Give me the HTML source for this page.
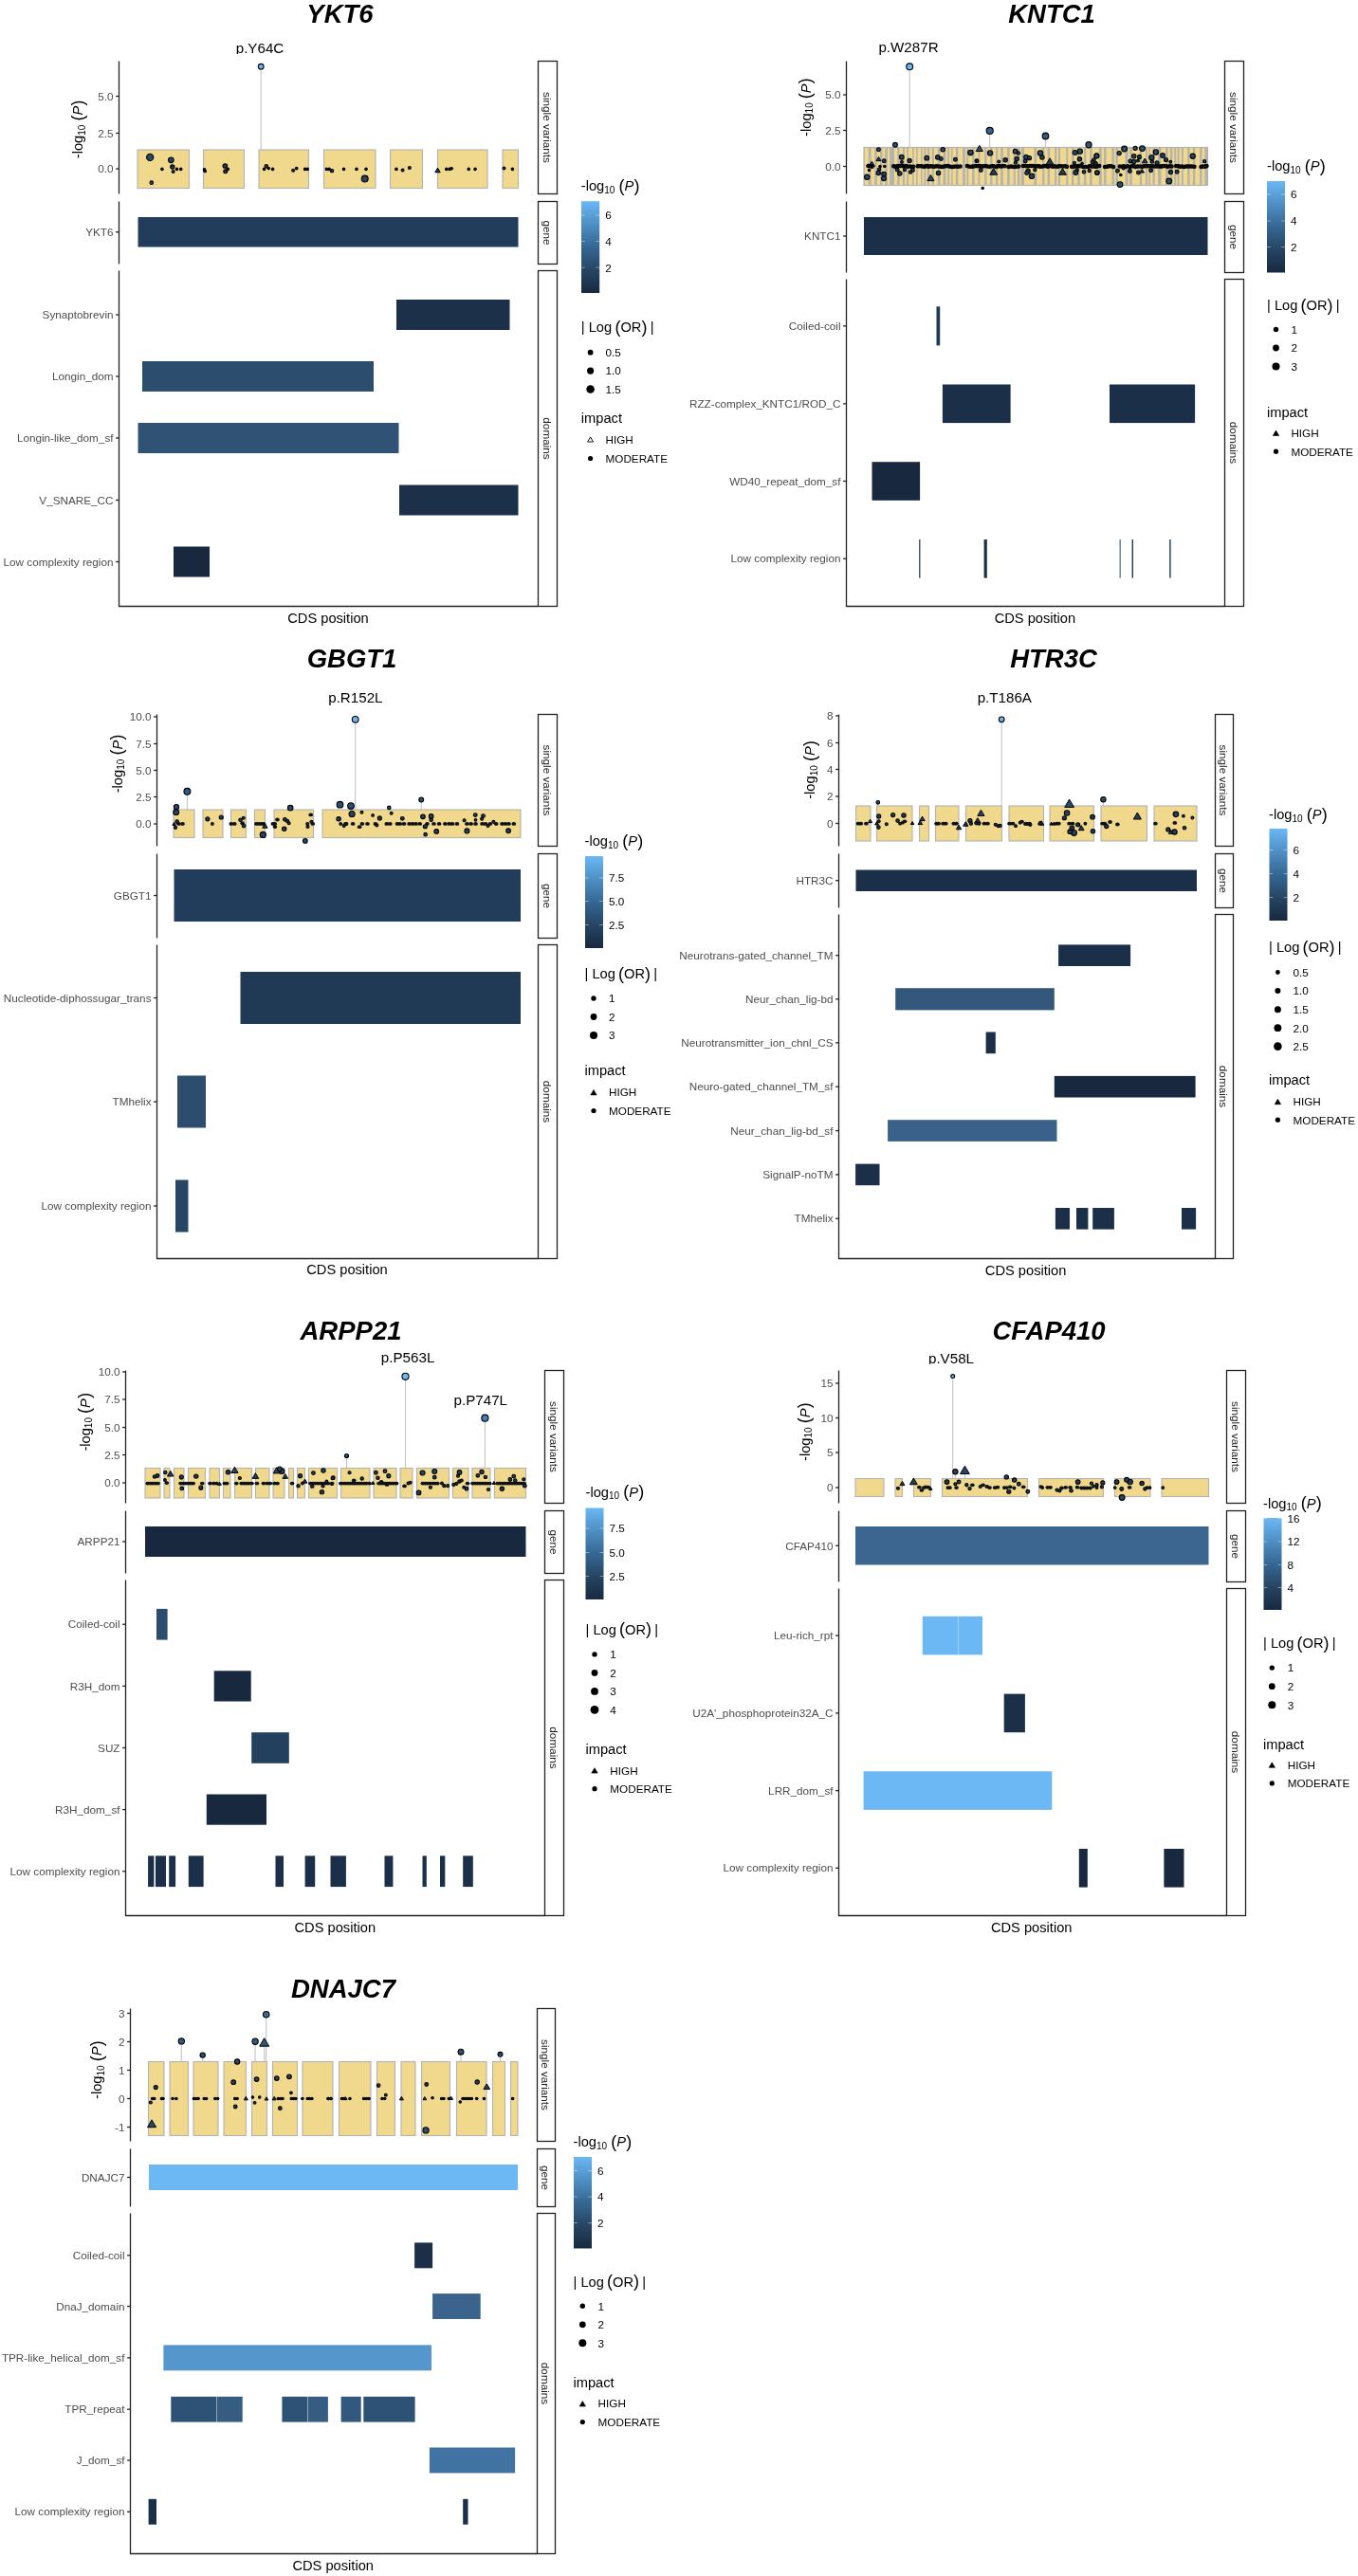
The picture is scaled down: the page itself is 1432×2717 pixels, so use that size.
<!DOCTYPE html><html><head><meta charset="utf-8"><title>Gene plots</title><style>html,body{margin:0;padding:0;background:#fff}svg{display:block}</style></head><body><svg width="1432" height="2717" viewBox="0 0 1432 2717" font-family='"Liberation Sans", sans-serif'><rect width="1432" height="2717" fill="#fff"/><clipPath id="clipV58"><rect x="900" y="1400" width="200" height="38.8"/></clipPath><rect x="145.0" y="158" width="54.50" height="40.5" fill="#f0d88c" stroke="#b3b3b3" stroke-width="1.1"/>
<rect x="214.5" y="158" width="43.00" height="40.5" fill="#f0d88c" stroke="#b3b3b3" stroke-width="1.1"/>
<rect x="273.0" y="158" width="52.50" height="40.5" fill="#f0d88c" stroke="#b3b3b3" stroke-width="1.1"/>
<rect x="341.5" y="158" width="54.50" height="40.5" fill="#f0d88c" stroke="#b3b3b3" stroke-width="1.1"/>
<rect x="411.5" y="158" width="34.00" height="40.5" fill="#f0d88c" stroke="#b3b3b3" stroke-width="1.1"/>
<rect x="461.5" y="158" width="52.50" height="40.5" fill="#f0d88c" stroke="#b3b3b3" stroke-width="1.1"/>
<rect x="530.0" y="158" width="16.50" height="40.5" fill="#f0d88c" stroke="#b3b3b3" stroke-width="1.1"/>
<line x1="275.2" y1="70.2" x2="275.2" y2="158" stroke="#c2c2c2" stroke-width="1.05"/>
<circle cx="158.17" cy="165.92" r="3.62" fill="#284665" stroke="#000" stroke-width="1.1"/>
<circle cx="384.73" cy="188.60" r="3.45" fill="#274462" stroke="#000" stroke-width="1.1"/>
<circle cx="180.36" cy="168.84" r="2.79" fill="#264361" stroke="#000" stroke-width="1.1"/>
<circle cx="237.38" cy="174.99" r="2.29" fill="#223b57" stroke="#000" stroke-width="1.1"/>
<circle cx="181.82" cy="175.96" r="2.12" fill="#213a56" stroke="#000" stroke-width="1.1"/>
<polygon points="461.52,177.11 458.81,181.75 464.23,181.75" fill="#203954" stroke="#000" stroke-width="1.0" stroke-linejoin="round"/>
<circle cx="237.71" cy="180.82" r="1.95" fill="#213a56" stroke="#000" stroke-width="1.1"/>
<circle cx="159.79" cy="192.65" r="1.79" fill="#2a4968" stroke="#000" stroke-width="1.1"/>
<circle cx="280.80" cy="175.32" r="1.79" fill="#223b57" stroke="#000" stroke-width="1.1"/>
<circle cx="350.07" cy="180.17" r="1.62" fill="#213a55" stroke="#000" stroke-width="1.1"/>
<circle cx="182.63" cy="180.98" r="1.45" fill="#213a56" stroke="#000" stroke-width="1.1"/>
<circle cx="309.15" cy="179.69" r="1.45" fill="#203954" stroke="#000" stroke-width="1.1"/>
<circle cx="424.58" cy="179.53" r="1.45" fill="#203954" stroke="#000" stroke-width="1.1"/>
<circle cx="431.87" cy="177.10" r="1.45" fill="#203954" stroke="#000" stroke-width="1.1"/>
<circle cx="531.50" cy="177.42" r="1.45" fill="#203953" stroke="#000" stroke-width="1.1"/>
<circle cx="215.51" cy="178.88" r="1.29" fill="#10161f" stroke="#000" stroke-width="1.1"/>
<circle cx="216.16" cy="180.50" r="1.29" fill="#10161f" stroke="#000" stroke-width="1.1"/>
<circle cx="312.71" cy="177.58" r="1.29" fill="#10161f" stroke="#000" stroke-width="1.1"/>
<circle cx="476.10" cy="177.75" r="1.29" fill="#10161f" stroke="#000" stroke-width="1.1"/>
<circle cx="170.96" cy="178.39" r="1.25" fill="#10161f" stroke="#000" stroke-width="1.1"/>
<circle cx="186.51" cy="178.39" r="1.25" fill="#10161f" stroke="#000" stroke-width="1.1"/>
<circle cx="190.73" cy="178.39" r="1.25" fill="#10161f" stroke="#000" stroke-width="1.1"/>
<circle cx="240.30" cy="178.39" r="1.25" fill="#10161f" stroke="#000" stroke-width="1.1"/>
<circle cx="278.53" cy="178.39" r="1.25" fill="#10161f" stroke="#000" stroke-width="1.1"/>
<circle cx="283.23" cy="177.58" r="1.25" fill="#10161f" stroke="#000" stroke-width="1.1"/>
<circle cx="287.60" cy="178.39" r="1.25" fill="#10161f" stroke="#000" stroke-width="1.1"/>
<circle cx="321.62" cy="178.39" r="1.25" fill="#10161f" stroke="#000" stroke-width="1.1"/>
<circle cx="324.21" cy="178.39" r="1.25" fill="#10161f" stroke="#000" stroke-width="1.1"/>
<circle cx="344.40" cy="178.39" r="1.25" fill="#10161f" stroke="#000" stroke-width="1.1"/>
<circle cx="347.15" cy="178.39" r="1.25" fill="#10161f" stroke="#000" stroke-width="1.1"/>
<circle cx="362.54" cy="178.39" r="1.25" fill="#10161f" stroke="#000" stroke-width="1.1"/>
<circle cx="375.98" cy="178.39" r="1.25" fill="#10161f" stroke="#000" stroke-width="1.1"/>
<circle cx="386.03" cy="178.39" r="1.25" fill="#10161f" stroke="#000" stroke-width="1.1"/>
<circle cx="417.94" cy="178.39" r="1.25" fill="#10161f" stroke="#000" stroke-width="1.1"/>
<circle cx="470.75" cy="178.39" r="1.25" fill="#10161f" stroke="#000" stroke-width="1.1"/>
<circle cx="473.99" cy="178.39" r="1.25" fill="#10161f" stroke="#000" stroke-width="1.1"/>
<circle cx="494.24" cy="178.39" r="1.25" fill="#10161f" stroke="#000" stroke-width="1.1"/>
<circle cx="501.05" cy="178.39" r="1.25" fill="#10161f" stroke="#000" stroke-width="1.1"/>
<circle cx="540.41" cy="178.39" r="1.25" fill="#10161f" stroke="#000" stroke-width="1.1"/>
<circle cx="275.20" cy="70.20" r="2.85" fill="#6bb8f5" stroke="#000" stroke-width="1.1"/>
<clipPath id="clpY64C"><rect x="214" y="25.799999999999997" width="120" height="31.3"/></clipPath>
<line x1="125.5" y1="64.5" x2="125.5" y2="204.5" stroke="#222222" stroke-width="1.3"/>
<line x1="125.5" y1="212.5" x2="125.5" y2="278.5" stroke="#222222" stroke-width="1.3"/>
<polyline points="125.5,285.5 125.5,639.5 567.5,639.5" fill="none" stroke="#222222" stroke-width="1.3"/>
<rect x="567.5" y="64.5" width="20.0" height="140.0" fill="#fff" stroke="#222222" stroke-width="1.3"/>
<rect x="567.5" y="212.5" width="20.0" height="66.0" fill="#fff" stroke="#222222" stroke-width="1.3"/>
<rect x="567.5" y="285.5" width="20.0" height="354.0" fill="#fff" stroke="#222222" stroke-width="1.3"/>
<line x1="122.1" y1="101.5" x2="125.5" y2="101.5" stroke="#222222" stroke-width="1.3"/>
<line x1="122.1" y1="140.5" x2="125.5" y2="140.5" stroke="#222222" stroke-width="1.3"/>
<line x1="122.1" y1="178" x2="125.5" y2="178" stroke="#222222" stroke-width="1.3"/>
<rect x="145.5" y="229" width="401.0" height="31.5" fill="#213d5b"/>
<line x1="122.1" y1="244.75" x2="125.5" y2="244.75" stroke="#222222" stroke-width="1.3"/>
<rect x="418.00" y="316" width="119.50" height="32.00" fill="#1c3049"/>
<line x1="122.1" y1="332.0" x2="125.5" y2="332.0" stroke="#222222" stroke-width="1.3"/>
<rect x="150.00" y="381" width="244.00" height="32.00" fill="#2c4d6e"/>
<line x1="122.1" y1="397.0" x2="125.5" y2="397.0" stroke="#222222" stroke-width="1.3"/>
<rect x="145.50" y="446" width="275.00" height="32.00" fill="#2f5275"/>
<line x1="122.1" y1="462.0" x2="125.5" y2="462.0" stroke="#222222" stroke-width="1.3"/>
<rect x="421.00" y="511.5" width="125.50" height="32.00" fill="#1c3049"/>
<line x1="122.1" y1="527.5" x2="125.5" y2="527.5" stroke="#222222" stroke-width="1.3"/>
<rect x="183.00" y="576.5" width="38.00" height="32.00" fill="#18293f"/>
<line x1="122.1" y1="592.5" x2="125.5" y2="592.5" stroke="#222222" stroke-width="1.3"/>
<linearGradient id="gYKT6" x1="0" y1="1" x2="0" y2="0"><stop offset="0" stop-color="#17293f"/><stop offset="0.25" stop-color="#264563"/><stop offset="0.5" stop-color="#356793"/><stop offset="0.75" stop-color="#4f8fc4"/><stop offset="1" stop-color="#6ab8f6"/></linearGradient>
<rect x="613" y="212.2" width="19.200000000000045" height="96.80000000000001" fill="url(#gYKT6)"/>
<line x1="613" y1="227" x2="616.8" y2="227" stroke="#fff" stroke-opacity="0.7" stroke-width="0.6"/>
<line x1="628.4000000000001" y1="227" x2="632.2" y2="227" stroke="#fff" stroke-opacity="0.7" stroke-width="0.6"/>
<line x1="613" y1="254.5" x2="616.8" y2="254.5" stroke="#fff" stroke-opacity="0.7" stroke-width="0.6"/>
<line x1="628.4000000000001" y1="254.5" x2="632.2" y2="254.5" stroke="#fff" stroke-opacity="0.7" stroke-width="0.6"/>
<line x1="613" y1="282.2" x2="616.8" y2="282.2" stroke="#fff" stroke-opacity="0.7" stroke-width="0.6"/>
<line x1="628.4000000000001" y1="282.2" x2="632.2" y2="282.2" stroke="#fff" stroke-opacity="0.7" stroke-width="0.6"/>
<circle cx="622.6" cy="371.7" r="2.9" fill="#000"/>
<circle cx="622.6" cy="391.1" r="3.6" fill="#000"/>
<circle cx="622.6" cy="410.5" r="4.3" fill="#000"/>
<polygon points="622.60,460.95 619.63,466.04 625.57,466.04" fill="#fff" stroke="#000" stroke-width="0.9" stroke-linejoin="round"/>
<circle cx="622.6" cy="483.5" r="2.6" fill="#000"/>
<rect x="910.4" y="154.9" width="363.60" height="41.2" fill="#b5b3ae"/>
<rect x="911.89" y="156.1" width="3.83" height="38.8" fill="#f0d88c"/>
<rect x="918.59" y="156.1" width="3.64" height="38.8" fill="#f0d88c"/>
<rect x="924.82" y="156.1" width="3.16" height="38.8" fill="#f0d88c"/>
<rect x="930.37" y="156.1" width="2.87" height="38.8" fill="#f0d88c"/>
<rect x="935.83" y="156.1" width="2.20" height="38.8" fill="#f0d88c"/>
<rect x="943.00" y="156.1" width="3.16" height="38.8" fill="#f0d88c"/>
<rect x="948.56" y="156.1" width="3.35" height="38.8" fill="#f0d88c"/>
<rect x="954.01" y="156.1" width="2.20" height="38.8" fill="#f0d88c"/>
<rect x="958.13" y="156.1" width="3.83" height="38.8" fill="#f0d88c"/>
<rect x="963.59" y="156.1" width="2.49" height="38.8" fill="#f0d88c"/>
<rect x="967.70" y="156.1" width="3.35" height="38.8" fill="#f0d88c"/>
<rect x="972.49" y="156.1" width="1.91" height="38.8" fill="#f0d88c"/>
<rect x="976.32" y="156.1" width="1.63" height="38.8" fill="#f0d88c"/>
<rect x="980.15" y="156.1" width="2.58" height="38.8" fill="#f0d88c"/>
<rect x="984.93" y="156.1" width="3.83" height="38.8" fill="#f0d88c"/>
<rect x="991.64" y="156.1" width="2.87" height="38.8" fill="#f0d88c"/>
<rect x="997.38" y="156.1" width="1.91" height="38.8" fill="#f0d88c"/>
<rect x="1001.21" y="156.1" width="1.91" height="38.8" fill="#f0d88c"/>
<rect x="1004.56" y="156.1" width="3.35" height="38.8" fill="#f0d88c"/>
<rect x="1010.30" y="156.1" width="4.79" height="38.8" fill="#f0d88c"/>
<rect x="1017.96" y="156.1" width="1.44" height="38.8" fill="#f0d88c"/>
<rect x="1021.31" y="156.1" width="3.83" height="38.8" fill="#f0d88c"/>
<rect x="1027.73" y="156.1" width="3.64" height="38.8" fill="#f0d88c"/>
<rect x="1033.35" y="156.1" width="4.79" height="38.8" fill="#f0d88c"/>
<rect x="1040.53" y="156.1" width="3.64" height="38.8" fill="#f0d88c"/>
<rect x="1046.47" y="156.1" width="3.64" height="38.8" fill="#f0d88c"/>
<rect x="1052.21" y="156.1" width="2.87" height="38.8" fill="#f0d88c"/>
<rect x="1057.76" y="156.1" width="4.31" height="38.8" fill="#f0d88c"/>
<rect x="1064.65" y="156.1" width="4.12" height="38.8" fill="#f0d88c"/>
<rect x="1070.69" y="156.1" width="2.39" height="38.8" fill="#f0d88c"/>
<rect x="1075.47" y="156.1" width="1.44" height="38.8" fill="#f0d88c"/>
<rect x="1079.97" y="156.1" width="10.53" height="38.8" fill="#f0d88c"/>
<rect x="1093.18" y="156.1" width="5.94" height="38.8" fill="#f0d88c"/>
<rect x="1101.32" y="156.1" width="3.35" height="38.8" fill="#f0d88c"/>
<rect x="1107.06" y="156.1" width="5.07" height="38.8" fill="#f0d88c"/>
<rect x="1114.24" y="156.1" width="1.72" height="38.8" fill="#f0d88c"/>
<rect x="1118.07" y="156.1" width="6.22" height="38.8" fill="#f0d88c"/>
<rect x="1126.21" y="156.1" width="3.83" height="38.8" fill="#f0d88c"/>
<rect x="1132.24" y="156.1" width="4.02" height="38.8" fill="#f0d88c"/>
<rect x="1138.65" y="156.1" width="4.31" height="38.8" fill="#f0d88c"/>
<rect x="1145.36" y="156.1" width="3.83" height="38.8" fill="#f0d88c"/>
<rect x="1151.58" y="156.1" width="6.70" height="38.8" fill="#f0d88c"/>
<rect x="1033.30" y="156.1" width="0.10" height="38.8" fill="#f0d88c"/>
<rect x="1155.00" y="156.1" width="3.83" height="38.8" fill="#f0d88c"/>
<rect x="1161.70" y="156.1" width="2.39" height="38.8" fill="#f0d88c"/>
<rect x="1166.49" y="156.1" width="5.94" height="38.8" fill="#f0d88c"/>
<rect x="1175.10" y="156.1" width="1.44" height="38.8" fill="#f0d88c"/>
<rect x="1178.93" y="156.1" width="7.66" height="38.8" fill="#f0d88c"/>
<rect x="1189.46" y="156.1" width="1.91" height="38.8" fill="#f0d88c"/>
<rect x="1193.77" y="156.1" width="8.14" height="38.8" fill="#f0d88c"/>
<rect x="1204.01" y="156.1" width="4.12" height="38.8" fill="#f0d88c"/>
<rect x="1210.04" y="156.1" width="1.44" height="38.8" fill="#f0d88c"/>
<rect x="1212.92" y="156.1" width="2.58" height="38.8" fill="#f0d88c"/>
<rect x="1217.70" y="156.1" width="3.35" height="38.8" fill="#f0d88c"/>
<rect x="1224.40" y="156.1" width="4.79" height="38.8" fill="#f0d88c"/>
<rect x="1231.58" y="156.1" width="2.39" height="38.8" fill="#f0d88c"/>
<rect x="1236.37" y="156.1" width="1.91" height="38.8" fill="#f0d88c"/>
<rect x="1240.20" y="156.1" width="1.44" height="38.8" fill="#f0d88c"/>
<rect x="1243.55" y="156.1" width="2.39" height="38.8" fill="#f0d88c"/>
<rect x="1247.86" y="156.1" width="4.31" height="38.8" fill="#f0d88c"/>
<rect x="1254.56" y="156.1" width="3.35" height="38.8" fill="#f0d88c"/>
<rect x="1260.30" y="156.1" width="4.79" height="38.8" fill="#f0d88c"/>
<rect x="1267.48" y="156.1" width="2.87" height="38.8" fill="#f0d88c"/>
<line x1="959.2" y1="70.3" x2="959.2" y2="155.5" stroke="#c2c2c2" stroke-width="1.05"/>
<line x1="1043.7" y1="137.9" x2="1043.7" y2="155.5" stroke="#c2c2c2" stroke-width="1.05"/>
<line x1="1102.5" y1="143.5" x2="1102.5" y2="155.5" stroke="#c2c2c2" stroke-width="1.05"/>
<polygon points="1107.06,166.78 1102.93,173.87 1111.20,173.87" fill="#233e5a" stroke="#000" stroke-width="1.0" stroke-linejoin="round"/>
<polygon points="1047.71,177.51 1043.79,184.22 1051.63,184.22" fill="#233e5a" stroke="#000" stroke-width="1.0" stroke-linejoin="round"/>
<polygon points="1120.47,177.51 1116.55,184.22 1124.38,184.22" fill="#233e5a" stroke="#000" stroke-width="1.0" stroke-linejoin="round"/>
<circle cx="1148.04" cy="152.76" r="3.10" fill="#305476" stroke="#000" stroke-width="1.1"/>
<polygon points="981.39,184.50 977.81,190.65 984.98,190.65" fill="#284665" stroke="#000" stroke-width="1.0" stroke-linejoin="round"/>
<polygon points="1032.80,153.39 1029.21,159.54 1036.39,159.54" fill="#2d4f70" stroke="#000" stroke-width="1.0" stroke-linejoin="round"/>
<circle cx="1185.63" cy="157.07" r="2.90" fill="#2d4e6f" stroke="#000" stroke-width="1.1"/>
<circle cx="1204.49" cy="156.59" r="2.90" fill="#2d4f70" stroke="#000" stroke-width="1.1"/>
<circle cx="1181.04" cy="194.60" r="2.90" fill="#2d4f70" stroke="#000" stroke-width="1.1"/>
<circle cx="1232.73" cy="191.05" r="2.90" fill="#2b4b6a" stroke="#000" stroke-width="1.1"/>
<circle cx="914.29" cy="186.75" r="2.70" fill="#284563" stroke="#000" stroke-width="1.1"/>
<circle cx="1023.42" cy="160.90" r="2.70" fill="#2a4969" stroke="#000" stroke-width="1.1"/>
<circle cx="1097.01" cy="161.38" r="2.70" fill="#2a4968" stroke="#000" stroke-width="1.1"/>
<circle cx="1087.92" cy="185.79" r="2.70" fill="#274462" stroke="#000" stroke-width="1.1"/>
<circle cx="1218.85" cy="160.42" r="2.70" fill="#2a4a69" stroke="#000" stroke-width="1.1"/>
<circle cx="1044.07" cy="161.38" r="2.61" fill="#2a4968" stroke="#000" stroke-width="1.1"/>
<circle cx="1138.85" cy="159.65" r="2.61" fill="#2b4b6b" stroke="#000" stroke-width="1.1"/>
<circle cx="1214.35" cy="166.16" r="2.61" fill="#264360" stroke="#000" stroke-width="1.1"/>
<circle cx="1257.72" cy="164.73" r="2.61" fill="#274563" stroke="#000" stroke-width="1.1"/>
<polygon points="919.36,170.16 916.33,175.36 922.39,175.36" fill="#213b56" stroke="#000" stroke-width="1.0" stroke-linejoin="round"/>
<circle cx="932.09" cy="183.59" r="2.41" fill="#25415e" stroke="#000" stroke-width="1.1"/>
<circle cx="932.00" cy="188.18" r="2.41" fill="#294766" stroke="#000" stroke-width="1.1"/>
<circle cx="943.96" cy="152.76" r="2.41" fill="#305476" stroke="#000" stroke-width="1.1"/>
<circle cx="950.76" cy="165.69" r="2.41" fill="#274361" stroke="#000" stroke-width="1.1"/>
<circle cx="977.28" cy="166.64" r="2.41" fill="#264260" stroke="#000" stroke-width="1.1"/>
<circle cx="1070.69" cy="159.65" r="2.41" fill="#2b4b6b" stroke="#000" stroke-width="1.1"/>
<circle cx="1081.98" cy="165.69" r="2.41" fill="#274361" stroke="#000" stroke-width="1.1"/>
<circle cx="1133.68" cy="160.90" r="2.41" fill="#2a4969" stroke="#000" stroke-width="1.1"/>
<circle cx="1156.36" cy="164.25" r="2.41" fill="#284563" stroke="#000" stroke-width="1.1"/>
<circle cx="1134.35" cy="181.96" r="2.41" fill="#243f5c" stroke="#000" stroke-width="1.1"/>
<circle cx="1226.03" cy="164.06" r="2.41" fill="#284564" stroke="#000" stroke-width="1.1"/>
<circle cx="1156.44" cy="164.44" r="2.41" fill="#274563" stroke="#000" stroke-width="1.1"/>
<circle cx="926.25" cy="182.44" r="2.21" fill="#24405d" stroke="#000" stroke-width="1.1"/>
<circle cx="948.75" cy="182.92" r="2.21" fill="#25405d" stroke="#000" stroke-width="1.1"/>
<circle cx="988.76" cy="165.88" r="2.21" fill="#264361" stroke="#000" stroke-width="1.1"/>
<circle cx="994.22" cy="157.74" r="2.21" fill="#2c4d6e" stroke="#000" stroke-width="1.1"/>
<circle cx="989.53" cy="182.44" r="2.21" fill="#24405d" stroke="#000" stroke-width="1.1"/>
<circle cx="1060.16" cy="168.84" r="2.21" fill="#243f5c" stroke="#000" stroke-width="1.1"/>
<circle cx="1072.12" cy="167.60" r="2.21" fill="#25415e" stroke="#000" stroke-width="1.1"/>
<circle cx="1098.93" cy="165.97" r="2.21" fill="#264361" stroke="#000" stroke-width="1.1"/>
<circle cx="1084.09" cy="180.52" r="2.21" fill="#233d5a" stroke="#000" stroke-width="1.1"/>
<circle cx="1138.46" cy="167.79" r="2.21" fill="#25415e" stroke="#000" stroke-width="1.1"/>
<circle cx="1156.84" cy="182.25" r="2.21" fill="#24405c" stroke="#000" stroke-width="1.1"/>
<circle cx="1195.69" cy="164.73" r="2.21" fill="#274563" stroke="#000" stroke-width="1.1"/>
<circle cx="1195.69" cy="170.47" r="2.21" fill="#233e5a" stroke="#000" stroke-width="1.1"/>
<polygon points="1207.17,167.00 1204.36,171.82 1209.99,171.82" fill="#243f5b" stroke="#000" stroke-width="1.0" stroke-linejoin="round"/>
<circle cx="1156.91" cy="181.96" r="2.21" fill="#243f5c" stroke="#000" stroke-width="1.1"/>
<circle cx="959.09" cy="169.51" r="2.11" fill="#243f5b" stroke="#000" stroke-width="1.1"/>
<circle cx="1197.12" cy="156.30" r="2.11" fill="#2d4f70" stroke="#000" stroke-width="1.1"/>
<circle cx="1180.18" cy="161.57" r="2.11" fill="#2a4868" stroke="#000" stroke-width="1.1"/>
<circle cx="1234.46" cy="181.48" r="2.11" fill="#243f5b" stroke="#000" stroke-width="1.1"/>
<circle cx="1085.52" cy="166.64" r="2.01" fill="#264260" stroke="#000" stroke-width="1.1"/>
<circle cx="1201.43" cy="165.40" r="2.01" fill="#274462" stroke="#000" stroke-width="1.1"/>
<circle cx="1229.48" cy="168.56" r="2.01" fill="#24405d" stroke="#000" stroke-width="1.1"/>
<circle cx="1220.10" cy="171.91" r="2.01" fill="#223c57" stroke="#000" stroke-width="1.1"/>
<circle cx="926.44" cy="157.74" r="1.92" fill="#2c4d6e" stroke="#000" stroke-width="1.1"/>
<polygon points="926.44,165.38 923.96,169.64 928.92,169.64" fill="#25415e" stroke="#000" stroke-width="1.0" stroke-linejoin="round"/>
<circle cx="932.28" cy="169.80" r="1.92" fill="#243e5b" stroke="#000" stroke-width="1.1"/>
<circle cx="946.16" cy="179.09" r="1.92" fill="#223c57" stroke="#000" stroke-width="1.1"/>
<circle cx="962.44" cy="179.57" r="1.92" fill="#223c58" stroke="#000" stroke-width="1.1"/>
<circle cx="992.31" cy="167.41" r="1.92" fill="#25415e" stroke="#000" stroke-width="1.1"/>
<circle cx="1007.43" cy="168.27" r="1.92" fill="#25405d" stroke="#000" stroke-width="1.1"/>
<circle cx="1029.93" cy="169.80" r="1.92" fill="#243e5b" stroke="#000" stroke-width="1.1"/>
<circle cx="1081.22" cy="169.99" r="1.92" fill="#233e5a" stroke="#000" stroke-width="1.1"/>
<circle cx="1082.65" cy="182.44" r="1.92" fill="#24405d" stroke="#000" stroke-width="1.1"/>
<circle cx="1034.31" cy="179.57" r="1.92" fill="#223c58" stroke="#000" stroke-width="1.1"/>
<circle cx="1191.86" cy="169.99" r="1.92" fill="#233e5a" stroke="#000" stroke-width="1.1"/>
<circle cx="1178.45" cy="180.33" r="1.92" fill="#233d59" stroke="#000" stroke-width="1.1"/>
<circle cx="1191.38" cy="180.52" r="1.92" fill="#233d5a" stroke="#000" stroke-width="1.1"/>
<circle cx="1200.47" cy="181.96" r="1.92" fill="#243f5c" stroke="#000" stroke-width="1.1"/>
<circle cx="1213.59" cy="179.76" r="1.92" fill="#223d58" stroke="#000" stroke-width="1.1"/>
<circle cx="1241.16" cy="181.29" r="1.92" fill="#243e5b" stroke="#000" stroke-width="1.1"/>
<circle cx="1153.49" cy="168.56" r="1.82" fill="#24405d" stroke="#000" stroke-width="1.1"/>
<circle cx="1152.06" cy="170.95" r="1.82" fill="#233d59" stroke="#000" stroke-width="1.1"/>
<circle cx="1155.41" cy="172.39" r="1.82" fill="#223b57" stroke="#000" stroke-width="1.1"/>
<circle cx="1142.96" cy="181.29" r="1.82" fill="#243e5b" stroke="#000" stroke-width="1.1"/>
<circle cx="1073.75" cy="161.57" r="1.72" fill="#2a4868" stroke="#000" stroke-width="1.1"/>
<circle cx="942.30" cy="175.32" r="1.70" fill="#10161f" stroke="#000" stroke-width="1.1"/>
<circle cx="943.97" cy="175.65" r="1.70" fill="#10161f" stroke="#000" stroke-width="1.1"/>
<circle cx="945.55" cy="175.54" r="1.70" fill="#10161f" stroke="#000" stroke-width="1.1"/>
<circle cx="947.45" cy="175.06" r="1.70" fill="#10161f" stroke="#000" stroke-width="1.1"/>
<circle cx="949.51" cy="175.04" r="1.70" fill="#10161f" stroke="#000" stroke-width="1.1"/>
<circle cx="951.48" cy="175.07" r="1.70" fill="#10161f" stroke="#000" stroke-width="1.1"/>
<circle cx="953.08" cy="175.42" r="1.70" fill="#10161f" stroke="#000" stroke-width="1.1"/>
<circle cx="955.49" cy="175.12" r="1.70" fill="#10161f" stroke="#000" stroke-width="1.1"/>
<circle cx="957.24" cy="175.63" r="1.70" fill="#10161f" stroke="#000" stroke-width="1.1"/>
<circle cx="959.78" cy="175.58" r="1.70" fill="#10161f" stroke="#000" stroke-width="1.1"/>
<circle cx="961.72" cy="175.98" r="1.70" fill="#10161f" stroke="#000" stroke-width="1.1"/>
<circle cx="963.27" cy="175.86" r="1.70" fill="#10161f" stroke="#000" stroke-width="1.1"/>
<circle cx="967.70" cy="175.14" r="1.70" fill="#10161f" stroke="#000" stroke-width="1.1"/>
<circle cx="969.33" cy="175.31" r="1.70" fill="#10161f" stroke="#000" stroke-width="1.1"/>
<circle cx="971.73" cy="175.18" r="1.70" fill="#10161f" stroke="#000" stroke-width="1.1"/>
<circle cx="973.87" cy="175.64" r="1.70" fill="#10161f" stroke="#000" stroke-width="1.1"/>
<circle cx="975.78" cy="175.55" r="1.70" fill="#10161f" stroke="#000" stroke-width="1.1"/>
<circle cx="977.35" cy="175.06" r="1.70" fill="#10161f" stroke="#000" stroke-width="1.1"/>
<circle cx="979.07" cy="175.68" r="1.70" fill="#10161f" stroke="#000" stroke-width="1.1"/>
<circle cx="981.04" cy="175.31" r="1.70" fill="#10161f" stroke="#000" stroke-width="1.1"/>
<circle cx="983.19" cy="175.45" r="1.70" fill="#10161f" stroke="#000" stroke-width="1.1"/>
<circle cx="985.02" cy="175.79" r="1.70" fill="#10161f" stroke="#000" stroke-width="1.1"/>
<circle cx="987.29" cy="175.24" r="1.70" fill="#10161f" stroke="#000" stroke-width="1.1"/>
<circle cx="989.42" cy="175.53" r="1.70" fill="#10161f" stroke="#000" stroke-width="1.1"/>
<circle cx="991.88" cy="175.73" r="1.70" fill="#10161f" stroke="#000" stroke-width="1.1"/>
<circle cx="993.70" cy="175.98" r="1.70" fill="#10161f" stroke="#000" stroke-width="1.1"/>
<circle cx="995.33" cy="175.42" r="1.70" fill="#10161f" stroke="#000" stroke-width="1.1"/>
<circle cx="997.66" cy="175.15" r="1.70" fill="#10161f" stroke="#000" stroke-width="1.1"/>
<circle cx="999.70" cy="175.04" r="1.70" fill="#10161f" stroke="#000" stroke-width="1.1"/>
<circle cx="1001.93" cy="175.76" r="1.70" fill="#10161f" stroke="#000" stroke-width="1.1"/>
<circle cx="1004.06" cy="175.88" r="1.70" fill="#10161f" stroke="#000" stroke-width="1.1"/>
<circle cx="1005.91" cy="175.70" r="1.70" fill="#10161f" stroke="#000" stroke-width="1.1"/>
<circle cx="1008.06" cy="175.58" r="1.70" fill="#10161f" stroke="#000" stroke-width="1.1"/>
<circle cx="1010.06" cy="175.84" r="1.70" fill="#10161f" stroke="#000" stroke-width="1.1"/>
<circle cx="1012.60" cy="175.47" r="1.70" fill="#10161f" stroke="#000" stroke-width="1.1"/>
<circle cx="1019.90" cy="175.06" r="1.70" fill="#10161f" stroke="#000" stroke-width="1.1"/>
<circle cx="1022.17" cy="175.65" r="1.70" fill="#10161f" stroke="#000" stroke-width="1.1"/>
<circle cx="1024.76" cy="175.82" r="1.70" fill="#10161f" stroke="#000" stroke-width="1.1"/>
<circle cx="1026.58" cy="175.39" r="1.70" fill="#10161f" stroke="#000" stroke-width="1.1"/>
<circle cx="1028.81" cy="175.02" r="1.70" fill="#10161f" stroke="#000" stroke-width="1.1"/>
<circle cx="1030.82" cy="175.17" r="1.70" fill="#10161f" stroke="#000" stroke-width="1.1"/>
<circle cx="1032.45" cy="175.06" r="1.70" fill="#10161f" stroke="#000" stroke-width="1.1"/>
<circle cx="1034.79" cy="175.13" r="1.70" fill="#10161f" stroke="#000" stroke-width="1.1"/>
<circle cx="1036.57" cy="175.39" r="1.70" fill="#10161f" stroke="#000" stroke-width="1.1"/>
<circle cx="1039.03" cy="175.08" r="1.70" fill="#10161f" stroke="#000" stroke-width="1.1"/>
<circle cx="1041.02" cy="175.55" r="1.70" fill="#10161f" stroke="#000" stroke-width="1.1"/>
<circle cx="1043.49" cy="175.82" r="1.70" fill="#10161f" stroke="#000" stroke-width="1.1"/>
<circle cx="1045.94" cy="175.28" r="1.70" fill="#10161f" stroke="#000" stroke-width="1.1"/>
<circle cx="1047.90" cy="175.36" r="1.70" fill="#10161f" stroke="#000" stroke-width="1.1"/>
<circle cx="1050.37" cy="175.96" r="1.70" fill="#10161f" stroke="#000" stroke-width="1.1"/>
<circle cx="1052.04" cy="175.18" r="1.70" fill="#10161f" stroke="#000" stroke-width="1.1"/>
<circle cx="1053.79" cy="175.23" r="1.70" fill="#10161f" stroke="#000" stroke-width="1.1"/>
<circle cx="1055.83" cy="175.59" r="1.70" fill="#10161f" stroke="#000" stroke-width="1.1"/>
<circle cx="1057.61" cy="175.00" r="1.70" fill="#10161f" stroke="#000" stroke-width="1.1"/>
<circle cx="1059.58" cy="175.37" r="1.70" fill="#10161f" stroke="#000" stroke-width="1.1"/>
<circle cx="1063.50" cy="175.95" r="1.70" fill="#10161f" stroke="#000" stroke-width="1.1"/>
<circle cx="1065.76" cy="175.52" r="1.70" fill="#10161f" stroke="#000" stroke-width="1.1"/>
<circle cx="1067.94" cy="175.68" r="1.70" fill="#10161f" stroke="#000" stroke-width="1.1"/>
<circle cx="1069.50" cy="175.90" r="1.70" fill="#10161f" stroke="#000" stroke-width="1.1"/>
<circle cx="1071.86" cy="175.87" r="1.70" fill="#10161f" stroke="#000" stroke-width="1.1"/>
<circle cx="1074.23" cy="175.39" r="1.70" fill="#10161f" stroke="#000" stroke-width="1.1"/>
<circle cx="1078.80" cy="175.10" r="1.70" fill="#10161f" stroke="#000" stroke-width="1.1"/>
<circle cx="1081.00" cy="175.06" r="1.70" fill="#10161f" stroke="#000" stroke-width="1.1"/>
<circle cx="1082.57" cy="175.21" r="1.70" fill="#10161f" stroke="#000" stroke-width="1.1"/>
<circle cx="1084.25" cy="175.34" r="1.70" fill="#10161f" stroke="#000" stroke-width="1.1"/>
<circle cx="1085.81" cy="175.00" r="1.70" fill="#10161f" stroke="#000" stroke-width="1.1"/>
<circle cx="1087.47" cy="175.10" r="1.70" fill="#10161f" stroke="#000" stroke-width="1.1"/>
<circle cx="1089.37" cy="175.03" r="1.70" fill="#10161f" stroke="#000" stroke-width="1.1"/>
<circle cx="1091.84" cy="175.61" r="1.70" fill="#10161f" stroke="#000" stroke-width="1.1"/>
<circle cx="1093.50" cy="175.25" r="1.70" fill="#10161f" stroke="#000" stroke-width="1.1"/>
<circle cx="1095.38" cy="175.36" r="1.70" fill="#10161f" stroke="#000" stroke-width="1.1"/>
<circle cx="1097.02" cy="175.85" r="1.70" fill="#10161f" stroke="#000" stroke-width="1.1"/>
<circle cx="1099.61" cy="175.47" r="1.70" fill="#10161f" stroke="#000" stroke-width="1.1"/>
<circle cx="1101.64" cy="175.09" r="1.70" fill="#10161f" stroke="#000" stroke-width="1.1"/>
<circle cx="1103.25" cy="175.34" r="1.70" fill="#10161f" stroke="#000" stroke-width="1.1"/>
<circle cx="1105.05" cy="175.83" r="1.70" fill="#10161f" stroke="#000" stroke-width="1.1"/>
<circle cx="1106.72" cy="175.02" r="1.70" fill="#10161f" stroke="#000" stroke-width="1.1"/>
<circle cx="1109.27" cy="175.53" r="1.70" fill="#10161f" stroke="#000" stroke-width="1.1"/>
<circle cx="1110.93" cy="175.54" r="1.70" fill="#10161f" stroke="#000" stroke-width="1.1"/>
<circle cx="1112.46" cy="175.53" r="1.70" fill="#10161f" stroke="#000" stroke-width="1.1"/>
<circle cx="1115.04" cy="175.86" r="1.70" fill="#10161f" stroke="#000" stroke-width="1.1"/>
<circle cx="1116.60" cy="175.26" r="1.70" fill="#10161f" stroke="#000" stroke-width="1.1"/>
<circle cx="1118.50" cy="175.17" r="1.70" fill="#10161f" stroke="#000" stroke-width="1.1"/>
<circle cx="1120.85" cy="175.53" r="1.70" fill="#10161f" stroke="#000" stroke-width="1.1"/>
<circle cx="1123.21" cy="175.33" r="1.70" fill="#10161f" stroke="#000" stroke-width="1.1"/>
<circle cx="1124.95" cy="175.81" r="1.70" fill="#10161f" stroke="#000" stroke-width="1.1"/>
<circle cx="1130.00" cy="175.85" r="1.70" fill="#10161f" stroke="#000" stroke-width="1.1"/>
<circle cx="1132.39" cy="175.82" r="1.70" fill="#10161f" stroke="#000" stroke-width="1.1"/>
<circle cx="1134.70" cy="175.23" r="1.70" fill="#10161f" stroke="#000" stroke-width="1.1"/>
<circle cx="1136.77" cy="175.36" r="1.70" fill="#10161f" stroke="#000" stroke-width="1.1"/>
<circle cx="1138.30" cy="175.03" r="1.70" fill="#10161f" stroke="#000" stroke-width="1.1"/>
<circle cx="1140.11" cy="175.26" r="1.70" fill="#10161f" stroke="#000" stroke-width="1.1"/>
<circle cx="1142.37" cy="175.96" r="1.70" fill="#10161f" stroke="#000" stroke-width="1.1"/>
<circle cx="1144.36" cy="175.94" r="1.70" fill="#10161f" stroke="#000" stroke-width="1.1"/>
<circle cx="1146.95" cy="175.96" r="1.70" fill="#10161f" stroke="#000" stroke-width="1.1"/>
<circle cx="1148.85" cy="175.22" r="1.70" fill="#10161f" stroke="#000" stroke-width="1.1"/>
<circle cx="1150.60" cy="175.20" r="1.70" fill="#10161f" stroke="#000" stroke-width="1.1"/>
<circle cx="1152.33" cy="175.62" r="1.70" fill="#10161f" stroke="#000" stroke-width="1.1"/>
<circle cx="1154.82" cy="175.84" r="1.70" fill="#10161f" stroke="#000" stroke-width="1.1"/>
<circle cx="1156.84" cy="175.65" r="1.70" fill="#10161f" stroke="#000" stroke-width="1.1"/>
<circle cx="1159.22" cy="175.08" r="1.70" fill="#10161f" stroke="#000" stroke-width="1.1"/>
<circle cx="1165.00" cy="175.91" r="1.70" fill="#10161f" stroke="#000" stroke-width="1.1"/>
<circle cx="1167.36" cy="175.75" r="1.70" fill="#10161f" stroke="#000" stroke-width="1.1"/>
<circle cx="1169.39" cy="175.18" r="1.70" fill="#10161f" stroke="#000" stroke-width="1.1"/>
<circle cx="1171.75" cy="175.33" r="1.70" fill="#10161f" stroke="#000" stroke-width="1.1"/>
<circle cx="1174.14" cy="175.97" r="1.70" fill="#10161f" stroke="#000" stroke-width="1.1"/>
<circle cx="1180.80" cy="175.40" r="1.70" fill="#10161f" stroke="#000" stroke-width="1.1"/>
<circle cx="1183.34" cy="175.72" r="1.70" fill="#10161f" stroke="#000" stroke-width="1.1"/>
<circle cx="1185.03" cy="175.13" r="1.70" fill="#10161f" stroke="#000" stroke-width="1.1"/>
<circle cx="1186.69" cy="175.90" r="1.70" fill="#10161f" stroke="#000" stroke-width="1.1"/>
<circle cx="1189.08" cy="175.15" r="1.70" fill="#10161f" stroke="#000" stroke-width="1.1"/>
<circle cx="1191.49" cy="175.98" r="1.70" fill="#10161f" stroke="#000" stroke-width="1.1"/>
<circle cx="1193.71" cy="175.35" r="1.70" fill="#10161f" stroke="#000" stroke-width="1.1"/>
<circle cx="1195.82" cy="175.13" r="1.70" fill="#10161f" stroke="#000" stroke-width="1.1"/>
<circle cx="1197.33" cy="175.97" r="1.70" fill="#10161f" stroke="#000" stroke-width="1.1"/>
<circle cx="1199.55" cy="175.53" r="1.70" fill="#10161f" stroke="#000" stroke-width="1.1"/>
<circle cx="1202.07" cy="175.43" r="1.70" fill="#10161f" stroke="#000" stroke-width="1.1"/>
<circle cx="1204.53" cy="175.83" r="1.70" fill="#10161f" stroke="#000" stroke-width="1.1"/>
<circle cx="1206.27" cy="175.25" r="1.70" fill="#10161f" stroke="#000" stroke-width="1.1"/>
<circle cx="1208.09" cy="175.24" r="1.70" fill="#10161f" stroke="#000" stroke-width="1.1"/>
<circle cx="1210.23" cy="175.26" r="1.70" fill="#10161f" stroke="#000" stroke-width="1.1"/>
<circle cx="1212.19" cy="175.13" r="1.70" fill="#10161f" stroke="#000" stroke-width="1.1"/>
<circle cx="1214.70" cy="175.35" r="1.70" fill="#10161f" stroke="#000" stroke-width="1.1"/>
<circle cx="1216.70" cy="175.58" r="1.70" fill="#10161f" stroke="#000" stroke-width="1.1"/>
<circle cx="1219.19" cy="175.42" r="1.70" fill="#10161f" stroke="#000" stroke-width="1.1"/>
<circle cx="1221.70" cy="175.50" r="1.70" fill="#10161f" stroke="#000" stroke-width="1.1"/>
<circle cx="1223.79" cy="175.52" r="1.70" fill="#10161f" stroke="#000" stroke-width="1.1"/>
<circle cx="1225.31" cy="175.44" r="1.70" fill="#10161f" stroke="#000" stroke-width="1.1"/>
<circle cx="1227.01" cy="175.00" r="1.70" fill="#10161f" stroke="#000" stroke-width="1.1"/>
<circle cx="1229.39" cy="175.17" r="1.70" fill="#10161f" stroke="#000" stroke-width="1.1"/>
<circle cx="1231.41" cy="175.73" r="1.70" fill="#10161f" stroke="#000" stroke-width="1.1"/>
<circle cx="1233.52" cy="175.33" r="1.70" fill="#10161f" stroke="#000" stroke-width="1.1"/>
<circle cx="1235.59" cy="175.56" r="1.70" fill="#10161f" stroke="#000" stroke-width="1.1"/>
<circle cx="1240.20" cy="175.11" r="1.70" fill="#10161f" stroke="#000" stroke-width="1.1"/>
<circle cx="1242.32" cy="175.25" r="1.70" fill="#10161f" stroke="#000" stroke-width="1.1"/>
<circle cx="1244.12" cy="175.77" r="1.70" fill="#10161f" stroke="#000" stroke-width="1.1"/>
<circle cx="1246.18" cy="175.56" r="1.70" fill="#10161f" stroke="#000" stroke-width="1.1"/>
<circle cx="1248.52" cy="175.91" r="1.70" fill="#10161f" stroke="#000" stroke-width="1.1"/>
<circle cx="1250.50" cy="175.61" r="1.70" fill="#10161f" stroke="#000" stroke-width="1.1"/>
<circle cx="1252.56" cy="175.51" r="1.70" fill="#10161f" stroke="#000" stroke-width="1.1"/>
<circle cx="1254.82" cy="175.45" r="1.70" fill="#10161f" stroke="#000" stroke-width="1.1"/>
<circle cx="1256.91" cy="175.48" r="1.70" fill="#10161f" stroke="#000" stroke-width="1.1"/>
<circle cx="1259.44" cy="175.70" r="1.70" fill="#10161f" stroke="#000" stroke-width="1.1"/>
<circle cx="1266.50" cy="175.94" r="1.70" fill="#10161f" stroke="#000" stroke-width="1.1"/>
<circle cx="1268.29" cy="175.56" r="1.70" fill="#10161f" stroke="#000" stroke-width="1.1"/>
<circle cx="1270.82" cy="175.84" r="1.70" fill="#10161f" stroke="#000" stroke-width="1.1"/>
<circle cx="1272.47" cy="175.12" r="1.70" fill="#10161f" stroke="#000" stroke-width="1.1"/>
<circle cx="915.50" cy="175.07" r="1.70" fill="#10161f" stroke="#000" stroke-width="1.1"/>
<circle cx="917.26" cy="175.07" r="1.70" fill="#10161f" stroke="#000" stroke-width="1.1"/>
<circle cx="919.50" cy="175.78" r="1.70" fill="#10161f" stroke="#000" stroke-width="1.1"/>
<circle cx="927.02" cy="178.61" r="1.62" fill="#223b57" stroke="#000" stroke-width="1.1"/>
<circle cx="954.01" cy="179.09" r="1.62" fill="#223c57" stroke="#000" stroke-width="1.1"/>
<circle cx="960.04" cy="181.48" r="1.62" fill="#243f5b" stroke="#000" stroke-width="1.1"/>
<circle cx="1070.88" cy="171.43" r="1.62" fill="#223c58" stroke="#000" stroke-width="1.1"/>
<circle cx="1091.27" cy="179.09" r="1.62" fill="#223c57" stroke="#000" stroke-width="1.1"/>
<circle cx="1132.91" cy="171.91" r="1.62" fill="#223c57" stroke="#000" stroke-width="1.1"/>
<circle cx="1135.78" cy="179.09" r="1.62" fill="#223c57" stroke="#000" stroke-width="1.1"/>
<circle cx="1148.71" cy="180.04" r="1.62" fill="#233d59" stroke="#000" stroke-width="1.1"/>
<circle cx="1270.16" cy="170.18" r="1.62" fill="#233e5a" stroke="#000" stroke-width="1.1"/>
<circle cx="1214.83" cy="170.47" r="1.62" fill="#233e5a" stroke="#000" stroke-width="1.1"/>
<circle cx="1155.48" cy="172.39" r="1.62" fill="#223b57" stroke="#000" stroke-width="1.1"/>
<polygon points="1204.30,178.41 1202.15,182.10 1206.45,182.10" fill="#233d59" stroke="#000" stroke-width="1.0" stroke-linejoin="round"/>
<circle cx="950.95" cy="170.95" r="1.42" fill="#233d59" stroke="#000" stroke-width="1.1"/>
<circle cx="1053.26" cy="170.47" r="1.42" fill="#233e5a" stroke="#000" stroke-width="1.1"/>
<circle cx="1030.48" cy="169.80" r="1.42" fill="#243e5b" stroke="#000" stroke-width="1.1"/>
<circle cx="1234.26" cy="170.76" r="1.42" fill="#233d59" stroke="#000" stroke-width="1.1"/>
<circle cx="1199.99" cy="169.51" r="1.42" fill="#243f5b" stroke="#000" stroke-width="1.1"/>
<circle cx="1184.68" cy="177.46" r="1.42" fill="#213a55" stroke="#000" stroke-width="1.1"/>
<polygon points="1270.83,173.06 1268.91,176.36 1272.76,176.36" fill="#203853" stroke="#000" stroke-width="1.0" stroke-linejoin="round"/>
<circle cx="927.98" cy="175.55" r="1.25" fill="#10161f" stroke="#000" stroke-width="1.1"/>
<circle cx="932.76" cy="175.55" r="1.25" fill="#10161f" stroke="#000" stroke-width="1.1"/>
<circle cx="916.49" cy="179.57" r="1.25" fill="#10161f" stroke="#000" stroke-width="1.1"/>
<circle cx="1036.22" cy="198.43" r="1.25" fill="#10161f" stroke="#000" stroke-width="1.1"/>
<circle cx="1141.05" cy="172.39" r="1.25" fill="#10161f" stroke="#000" stroke-width="1.1"/>
<circle cx="1181.80" cy="184.54" r="1.25" fill="#10161f" stroke="#000" stroke-width="1.1"/>
<circle cx="959.20" cy="70.30" r="3.45" fill="#6bb8f5" stroke="#000" stroke-width="1.1"/>
<circle cx="1043.70" cy="137.90" r="3.55" fill="#376086" stroke="#000" stroke-width="1.1"/>
<circle cx="1102.50" cy="143.50" r="3.35" fill="#33597c" stroke="#000" stroke-width="1.1"/>
<clipPath id="clpW287R"><rect x="898" y="25.1" width="120" height="40"/></clipPath>
<line x1="892.5" y1="64.5" x2="892.5" y2="204.5" stroke="#222222" stroke-width="1.3"/>
<line x1="892.5" y1="212.5" x2="892.5" y2="287.5" stroke="#222222" stroke-width="1.3"/>
<polyline points="892.5,294.5 892.5,639.5 1291.5,639.5" fill="none" stroke="#222222" stroke-width="1.3"/>
<rect x="1291.5" y="64.5" width="20.0" height="140.0" fill="#fff" stroke="#222222" stroke-width="1.3"/>
<rect x="1291.5" y="212.5" width="20.0" height="75.0" fill="#fff" stroke="#222222" stroke-width="1.3"/>
<rect x="1291.5" y="294.5" width="20.0" height="345.0" fill="#fff" stroke="#222222" stroke-width="1.3"/>
<line x1="889.1" y1="100" x2="892.5" y2="100" stroke="#222222" stroke-width="1.3"/>
<line x1="889.1" y1="137.5" x2="892.5" y2="137.5" stroke="#222222" stroke-width="1.3"/>
<line x1="889.1" y1="175.5" x2="892.5" y2="175.5" stroke="#222222" stroke-width="1.3"/>
<rect x="911" y="229" width="362.5" height="40" fill="#1b2f48"/>
<line x1="889.1" y1="249.0" x2="892.5" y2="249.0" stroke="#222222" stroke-width="1.3"/>
<rect x="987.50" y="323.3" width="3.70" height="41.10" fill="#203a56"/>
<line x1="889.1" y1="343.85" x2="892.5" y2="343.85" stroke="#222222" stroke-width="1.3"/>
<rect x="993.90" y="405.5" width="71.70" height="40.60" fill="#1b2f48"/>
<rect x="1170.00" y="405.5" width="90.10" height="40.60" fill="#1b2f48"/>
<line x1="889.1" y1="425.8" x2="892.5" y2="425.8" stroke="#222222" stroke-width="1.3"/>
<rect x="919.50" y="487.2" width="50.60" height="40.60" fill="#18293f"/>
<line x1="889.1" y1="507.5" x2="892.5" y2="507.5" stroke="#222222" stroke-width="1.3"/>
<rect x="969.20" y="569" width="1.20" height="40.60" fill="#1b2f48"/>
<rect x="1037.60" y="569" width="3.20" height="40.60" fill="#1b2f48"/>
<rect x="1180.60" y="569" width="1.10" height="40.60" fill="#34587c"/>
<rect x="1193.60" y="569" width="1.40" height="40.60" fill="#203a56"/>
<rect x="1233.20" y="569" width="1.40" height="40.60" fill="#203a56"/>
<line x1="889.1" y1="589.3" x2="892.5" y2="589.3" stroke="#222222" stroke-width="1.3"/>
<linearGradient id="gKNTC1" x1="0" y1="1" x2="0" y2="0"><stop offset="0" stop-color="#17293f"/><stop offset="0.25" stop-color="#264563"/><stop offset="0.5" stop-color="#356793"/><stop offset="0.75" stop-color="#4f8fc4"/><stop offset="1" stop-color="#6ab8f6"/></linearGradient>
<rect x="1336" y="191" width="19" height="96.5" fill="url(#gKNTC1)"/>
<line x1="1336" y1="205" x2="1339.8" y2="205" stroke="#fff" stroke-opacity="0.7" stroke-width="0.6"/>
<line x1="1351.2" y1="205" x2="1355" y2="205" stroke="#fff" stroke-opacity="0.7" stroke-width="0.6"/>
<line x1="1336" y1="233" x2="1339.8" y2="233" stroke="#fff" stroke-opacity="0.7" stroke-width="0.6"/>
<line x1="1351.2" y1="233" x2="1355" y2="233" stroke="#fff" stroke-opacity="0.7" stroke-width="0.6"/>
<line x1="1336" y1="260.5" x2="1339.8" y2="260.5" stroke="#fff" stroke-opacity="0.7" stroke-width="0.6"/>
<line x1="1351.2" y1="260.5" x2="1355" y2="260.5" stroke="#fff" stroke-opacity="0.7" stroke-width="0.6"/>
<circle cx="1345.5" cy="347.5" r="2.6999999999999997" fill="#000"/>
<circle cx="1345.5" cy="367" r="3.4" fill="#000"/>
<circle cx="1345.5" cy="386.5" r="4.0" fill="#000"/>
<polygon points="1345.50,454.05 1342.31,459.52 1348.69,459.52" fill="#000" stroke="#000" stroke-width="0.6" stroke-linejoin="round"/>
<circle cx="1345.5" cy="476.2" r="2.6" fill="#000"/>
<rect x="183.0" y="854" width="22.00" height="29.5" fill="#f0d88c" stroke="#b3b3b3" stroke-width="1.1"/>
<rect x="214.0" y="854" width="21.00" height="29.5" fill="#f0d88c" stroke="#b3b3b3" stroke-width="1.1"/>
<rect x="243.5" y="854" width="16.00" height="29.5" fill="#f0d88c" stroke="#b3b3b3" stroke-width="1.1"/>
<rect x="268.5" y="854" width="11.00" height="29.5" fill="#f0d88c" stroke="#b3b3b3" stroke-width="1.1"/>
<rect x="289.0" y="854" width="41.50" height="29.5" fill="#f0d88c" stroke="#b3b3b3" stroke-width="1.1"/>
<rect x="340.0" y="854" width="209.00" height="29.5" fill="#f0d88c" stroke="#b3b3b3" stroke-width="1.1"/>
<line x1="374.7" y1="758.8" x2="374.7" y2="854" stroke="#c2c2c2" stroke-width="1.05"/>
<line x1="197.4" y1="834.8" x2="197.4" y2="854" stroke="#c2c2c2" stroke-width="1.05"/>
<line x1="444.2" y1="843.4" x2="444.2" y2="854" stroke="#c2c2c2" stroke-width="1.05"/>
<circle cx="358.50" cy="848.68" r="3.34" fill="#2e4f70" stroke="#000" stroke-width="1.1"/>
<circle cx="370.00" cy="850.08" r="3.34" fill="#2d4e6e" stroke="#000" stroke-width="1.1"/>
<circle cx="277.34" cy="880.44" r="3.05" fill="#274563" stroke="#000" stroke-width="1.1"/>
<circle cx="371.12" cy="858.48" r="3.05" fill="#274461" stroke="#000" stroke-width="1.1"/>
<circle cx="185.70" cy="856.66" r="2.91" fill="#284664" stroke="#000" stroke-width="1.1"/>
<circle cx="306.17" cy="852.18" r="2.76" fill="#2b4b6b" stroke="#000" stroke-width="1.1"/>
<circle cx="185.98" cy="851.06" r="2.62" fill="#2c4d6d" stroke="#000" stroke-width="1.1"/>
<circle cx="492.42" cy="876.39" r="2.48" fill="#25405d" stroke="#000" stroke-width="1.1"/>
<circle cx="321.84" cy="886.88" r="2.33" fill="#2c4c6d" stroke="#000" stroke-width="1.1"/>
<circle cx="445.97" cy="861.28" r="2.33" fill="#25405d" stroke="#000" stroke-width="1.1"/>
<circle cx="454.65" cy="861.00" r="2.33" fill="#25415e" stroke="#000" stroke-width="1.1"/>
<circle cx="460.24" cy="876.95" r="2.33" fill="#25415e" stroke="#000" stroke-width="1.1"/>
<circle cx="536.08" cy="876.25" r="2.33" fill="#24405d" stroke="#000" stroke-width="1.1"/>
<circle cx="299.73" cy="874.15" r="2.19" fill="#233d59" stroke="#000" stroke-width="1.1"/>
<circle cx="357.10" cy="863.79" r="2.19" fill="#233d5a" stroke="#000" stroke-width="1.1"/>
<circle cx="218.86" cy="863.79" r="2.04" fill="#233d5a" stroke="#000" stroke-width="1.1"/>
<circle cx="233.27" cy="861.98" r="2.04" fill="#24405c" stroke="#000" stroke-width="1.1"/>
<polygon points="279.44,868.73 276.82,873.23 282.07,873.23" fill="#213a55" stroke="#000" stroke-width="1.0" stroke-linejoin="round"/>
<circle cx="400.36" cy="862.96" r="2.04" fill="#243e5b" stroke="#000" stroke-width="1.1"/>
<circle cx="448.35" cy="871.77" r="2.04" fill="#213b56" stroke="#000" stroke-width="1.1"/>
<circle cx="300.43" cy="864.35" r="1.90" fill="#233d59" stroke="#000" stroke-width="1.1"/>
<circle cx="424.28" cy="863.37" r="1.90" fill="#233e5a" stroke="#000" stroke-width="1.1"/>
<circle cx="501.24" cy="859.60" r="1.90" fill="#264260" stroke="#000" stroke-width="1.1"/>
<circle cx="509.50" cy="860.58" r="1.90" fill="#25415e" stroke="#000" stroke-width="1.1"/>
<circle cx="186.67" cy="866.59" r="1.76" fill="#213a55" stroke="#000" stroke-width="1.1"/>
<circle cx="253.56" cy="864.77" r="1.76" fill="#223c58" stroke="#000" stroke-width="1.1"/>
<circle cx="257.05" cy="871.07" r="1.76" fill="#213a55" stroke="#000" stroke-width="1.1"/>
<circle cx="410.29" cy="851.90" r="1.76" fill="#2b4b6b" stroke="#000" stroke-width="1.1"/>
<circle cx="454.65" cy="864.77" r="1.76" fill="#223c58" stroke="#000" stroke-width="1.1"/>
<circle cx="448.63" cy="880.17" r="1.76" fill="#274462" stroke="#000" stroke-width="1.1"/>
<circle cx="303.23" cy="866.17" r="1.61" fill="#213b56" stroke="#000" stroke-width="1.1"/>
<circle cx="397.28" cy="870.37" r="1.61" fill="#203954" stroke="#000" stroke-width="1.1"/>
<circle cx="185.00" cy="872.89" r="1.47" fill="#223c58" stroke="#000" stroke-width="1.1"/>
<circle cx="256.77" cy="862.68" r="1.47" fill="#243f5b" stroke="#000" stroke-width="1.1"/>
<circle cx="289.94" cy="868.97" r="1.47" fill="#1f3752" stroke="#000" stroke-width="1.1"/>
<circle cx="304.63" cy="868.27" r="1.47" fill="#203853" stroke="#000" stroke-width="1.1"/>
<circle cx="328.41" cy="866.87" r="1.47" fill="#213a55" stroke="#000" stroke-width="1.1"/>
<circle cx="324.22" cy="868.97" r="1.47" fill="#1f3752" stroke="#000" stroke-width="1.1"/>
<circle cx="324.50" cy="872.05" r="1.47" fill="#223b56" stroke="#000" stroke-width="1.1"/>
<circle cx="362.69" cy="871.07" r="1.47" fill="#213a55" stroke="#000" stroke-width="1.1"/>
<circle cx="381.47" cy="856.80" r="1.47" fill="#284664" stroke="#000" stroke-width="1.1"/>
<circle cx="412.67" cy="857.78" r="1.47" fill="#274463" stroke="#000" stroke-width="1.1"/>
<circle cx="508.10" cy="863.79" r="1.47" fill="#233d5a" stroke="#000" stroke-width="1.1"/>
<circle cx="489.63" cy="865.19" r="1.47" fill="#223c57" stroke="#000" stroke-width="1.1"/>
<circle cx="520.41" cy="866.87" r="1.47" fill="#213a55" stroke="#000" stroke-width="1.1"/>
<circle cx="514.53" cy="871.07" r="1.47" fill="#213a55" stroke="#000" stroke-width="1.1"/>
<circle cx="223.89" cy="868.97" r="1.32" fill="#1f3752" stroke="#000" stroke-width="1.1"/>
<circle cx="359.19" cy="868.97" r="1.32" fill="#1f3752" stroke="#000" stroke-width="1.1"/>
<circle cx="365.49" cy="868.97" r="1.32" fill="#1f3752" stroke="#000" stroke-width="1.1"/>
<circle cx="393.08" cy="859.88" r="1.32" fill="#26425f" stroke="#000" stroke-width="1.1"/>
<circle cx="501.52" cy="864.77" r="1.32" fill="#223c58" stroke="#000" stroke-width="1.1"/>
<polygon points="183.60,867.42 181.86,870.40 185.33,870.40" fill="#10161f" stroke="#000" stroke-width="1.0" stroke-linejoin="round"/>
<ellipse cx="188.49" cy="868.97" rx="2.35" ry="1.9" fill="#0d1219"/>
<ellipse cx="192.55" cy="868.97" rx="2.35" ry="1.9" fill="#0d1219"/>
<ellipse cx="243.76" cy="868.97" rx="2.35" ry="1.9" fill="#0d1219"/>
<ellipse cx="247.26" cy="868.97" rx="2.35" ry="1.9" fill="#0d1219"/>
<ellipse cx="255.65" cy="868.27" rx="2.35" ry="1.9" fill="#0d1219"/>
<ellipse cx="270.35" cy="868.97" rx="2.35" ry="1.9" fill="#0d1219"/>
<ellipse cx="273.14" cy="868.97" rx="2.35" ry="1.9" fill="#0d1219"/>
<ellipse cx="275.94" cy="868.97" rx="2.35" ry="1.9" fill="#0d1219"/>
<ellipse cx="278.04" cy="868.97" rx="2.35" ry="1.9" fill="#0d1219"/>
<ellipse cx="287.84" cy="868.97" rx="2.35" ry="1.9" fill="#0d1219"/>
<ellipse cx="289.94" cy="872.05" rx="2.35" ry="1.9" fill="#0d1219"/>
<ellipse cx="292.45" cy="864.49" rx="2.35" ry="1.9" fill="#0d1219"/>
<ellipse cx="327.71" cy="859.46" rx="2.35" ry="1.9" fill="#0d1219"/>
<ellipse cx="329.81" cy="868.97" rx="2.35" ry="1.9" fill="#0d1219"/>
<ellipse cx="379.09" cy="872.19" rx="2.35" ry="1.9" fill="#0d1219"/>
<ellipse cx="364.40" cy="868.97" rx="2.35" ry="1.9" fill="#0d1219"/>
<ellipse cx="372.09" cy="868.97" rx="2.35" ry="1.9" fill="#0d1219"/>
<ellipse cx="381.89" cy="868.97" rx="2.35" ry="1.9" fill="#0d1219"/>
<ellipse cx="387.49" cy="868.97" rx="2.35" ry="1.9" fill="#0d1219"/>
<ellipse cx="395.88" cy="868.97" rx="2.35" ry="1.9" fill="#0d1219"/>
<ellipse cx="407.77" cy="868.97" rx="2.35" ry="1.9" fill="#0d1219"/>
<ellipse cx="411.27" cy="868.97" rx="2.35" ry="1.9" fill="#0d1219"/>
<ellipse cx="418.97" cy="868.97" rx="2.35" ry="1.9" fill="#0d1219"/>
<ellipse cx="421.77" cy="868.97" rx="2.35" ry="1.9" fill="#0d1219"/>
<ellipse cx="425.96" cy="868.97" rx="2.35" ry="1.9" fill="#0d1219"/>
<ellipse cx="431.56" cy="868.97" rx="2.35" ry="1.9" fill="#0d1219"/>
<ellipse cx="435.06" cy="868.97" rx="2.35" ry="1.9" fill="#0d1219"/>
<ellipse cx="438.56" cy="868.97" rx="2.35" ry="1.9" fill="#0d1219"/>
<ellipse cx="442.75" cy="868.97" rx="2.35" ry="1.9" fill="#0d1219"/>
<ellipse cx="450.45" cy="868.97" rx="2.35" ry="1.9" fill="#0d1219"/>
<ellipse cx="457.45" cy="868.97" rx="2.35" ry="1.9" fill="#0d1219"/>
<ellipse cx="463.04" cy="868.97" rx="2.35" ry="1.9" fill="#0d1219"/>
<ellipse cx="469.34" cy="868.97" rx="2.35" ry="1.9" fill="#0d1219"/>
<ellipse cx="473.54" cy="868.97" rx="2.35" ry="1.9" fill="#0d1219"/>
<ellipse cx="477.03" cy="868.97" rx="2.35" ry="1.9" fill="#0d1219"/>
<ellipse cx="481.93" cy="868.97" rx="2.35" ry="1.9" fill="#0d1219"/>
<ellipse cx="492.42" cy="868.97" rx="2.35" ry="1.9" fill="#0d1219"/>
<ellipse cx="496.62" cy="868.97" rx="2.35" ry="1.9" fill="#0d1219"/>
<ellipse cx="501.52" cy="868.97" rx="2.35" ry="1.9" fill="#0d1219"/>
<ellipse cx="508.52" cy="868.97" rx="2.35" ry="1.9" fill="#0d1219"/>
<ellipse cx="512.01" cy="868.97" rx="2.35" ry="1.9" fill="#0d1219"/>
<ellipse cx="516.91" cy="868.97" rx="2.35" ry="1.9" fill="#0d1219"/>
<ellipse cx="523.21" cy="868.97" rx="2.35" ry="1.9" fill="#0d1219"/>
<ellipse cx="529.50" cy="868.97" rx="2.35" ry="1.9" fill="#0d1219"/>
<ellipse cx="533.00" cy="868.97" rx="2.35" ry="1.9" fill="#0d1219"/>
<ellipse cx="536.50" cy="868.97" rx="2.35" ry="1.9" fill="#0d1219"/>
<ellipse cx="541.82" cy="868.97" rx="2.35" ry="1.9" fill="#0d1219"/>
<circle cx="374.70" cy="758.80" r="3.35" fill="#6bb8f5" stroke="#000" stroke-width="1.1"/>
<circle cx="197.40" cy="834.80" r="3.45" fill="#345a7d" stroke="#000" stroke-width="1.1"/>
<circle cx="444.20" cy="843.40" r="2.45" fill="#2d4f70" stroke="#000" stroke-width="1.1"/>
<clipPath id="clpR152L"><rect x="314.9" y="710.8" width="120" height="40"/></clipPath>
<line x1="165.5" y1="753.5" x2="165.5" y2="892.5" stroke="#222222" stroke-width="1.3"/>
<line x1="165.5" y1="900.5" x2="165.5" y2="989.5" stroke="#222222" stroke-width="1.3"/>
<polyline points="165.5,996.5 165.5,1327.5 567.5,1327.5" fill="none" stroke="#222222" stroke-width="1.3"/>
<rect x="567.5" y="753.5" width="20.0" height="139.0" fill="#fff" stroke="#222222" stroke-width="1.3"/>
<rect x="567.5" y="900.5" width="20.0" height="89.0" fill="#fff" stroke="#222222" stroke-width="1.3"/>
<rect x="567.5" y="996.5" width="20.0" height="331.0" fill="#fff" stroke="#222222" stroke-width="1.3"/>
<line x1="162.1" y1="756" x2="165.5" y2="756" stroke="#222222" stroke-width="1.3"/>
<line x1="162.1" y1="784.5" x2="165.5" y2="784.5" stroke="#222222" stroke-width="1.3"/>
<line x1="162.1" y1="812.5" x2="165.5" y2="812.5" stroke="#222222" stroke-width="1.3"/>
<line x1="162.1" y1="840.5" x2="165.5" y2="840.5" stroke="#222222" stroke-width="1.3"/>
<line x1="162.1" y1="869" x2="165.5" y2="869" stroke="#222222" stroke-width="1.3"/>
<rect x="183.5" y="917" width="365.5" height="55" fill="#213d5b"/>
<line x1="162.1" y1="944.5" x2="165.5" y2="944.5" stroke="#222222" stroke-width="1.3"/>
<rect x="253.50" y="1025" width="295.50" height="55.00" fill="#203a56"/>
<line x1="162.1" y1="1052.5" x2="165.5" y2="1052.5" stroke="#222222" stroke-width="1.3"/>
<rect x="187.00" y="1134.5" width="30.00" height="55.00" fill="#2c4d6e"/>
<line x1="162.1" y1="1162.0" x2="165.5" y2="1162.0" stroke="#222222" stroke-width="1.3"/>
<rect x="185.00" y="1244.5" width="13.50" height="55.00" fill="#274666"/>
<line x1="162.1" y1="1272.0" x2="165.5" y2="1272.0" stroke="#222222" stroke-width="1.3"/>
<linearGradient id="gGBGT1" x1="0" y1="1" x2="0" y2="0"><stop offset="0" stop-color="#17293f"/><stop offset="0.25" stop-color="#264563"/><stop offset="0.5" stop-color="#356793"/><stop offset="0.75" stop-color="#4f8fc4"/><stop offset="1" stop-color="#6ab8f6"/></linearGradient>
<rect x="617" y="903" width="19" height="97" fill="url(#gGBGT1)"/>
<line x1="617" y1="926" x2="620.8" y2="926" stroke="#fff" stroke-opacity="0.7" stroke-width="0.6"/>
<line x1="632.2" y1="926" x2="636" y2="926" stroke="#fff" stroke-opacity="0.7" stroke-width="0.6"/>
<line x1="617" y1="950.5" x2="620.8" y2="950.5" stroke="#fff" stroke-opacity="0.7" stroke-width="0.6"/>
<line x1="632.2" y1="950.5" x2="636" y2="950.5" stroke="#fff" stroke-opacity="0.7" stroke-width="0.6"/>
<line x1="617" y1="975.5" x2="620.8" y2="975.5" stroke="#fff" stroke-opacity="0.7" stroke-width="0.6"/>
<line x1="632.2" y1="975.5" x2="636" y2="975.5" stroke="#fff" stroke-opacity="0.7" stroke-width="0.6"/>
<circle cx="626" cy="1053" r="2.6999999999999997" fill="#000"/>
<circle cx="626" cy="1072.5" r="3.4" fill="#000"/>
<circle cx="626" cy="1092" r="4.0" fill="#000"/>
<polygon points="626.00,1149.45 622.81,1154.92 629.19,1154.92" fill="#000" stroke="#000" stroke-width="0.6" stroke-linejoin="round"/>
<circle cx="626" cy="1171.5" r="2.6" fill="#000"/>
<rect x="902.5" y="850" width="15.50" height="37" fill="#f0d88c" stroke="#b3b3b3" stroke-width="1.1"/>
<rect x="924.5" y="850" width="37.50" height="37" fill="#f0d88c" stroke="#b3b3b3" stroke-width="1.1"/>
<rect x="969.5" y="850" width="10.00" height="37" fill="#f0d88c" stroke="#b3b3b3" stroke-width="1.1"/>
<rect x="986.5" y="850" width="24.50" height="37" fill="#f0d88c" stroke="#b3b3b3" stroke-width="1.1"/>
<rect x="1018.5" y="850" width="38.00" height="37" fill="#f0d88c" stroke="#b3b3b3" stroke-width="1.1"/>
<rect x="1064.0" y="850" width="36.50" height="37" fill="#f0d88c" stroke="#b3b3b3" stroke-width="1.1"/>
<rect x="1107.0" y="850" width="46.50" height="37" fill="#f0d88c" stroke="#b3b3b3" stroke-width="1.1"/>
<rect x="1161.0" y="850" width="48.50" height="37" fill="#f0d88c" stroke="#b3b3b3" stroke-width="1.1"/>
<rect x="1217.0" y="850" width="45.00" height="37" fill="#f0d88c" stroke="#b3b3b3" stroke-width="1.1"/>
<line x1="1056.2" y1="758.8" x2="1056.2" y2="850" stroke="#c2c2c2" stroke-width="1.05"/>
<line x1="925.8" y1="846.3" x2="925.8" y2="850" stroke="#c2c2c2" stroke-width="1.05"/>
<line x1="1163.4" y1="843.2" x2="1163.4" y2="850" stroke="#c2c2c2" stroke-width="1.05"/>
<line x1="1127.6" y1="847.4" x2="1127.6" y2="850" stroke="#c2c2c2" stroke-width="1.05"/>
<polygon points="1199.35,857.04 1195.27,864.03 1203.43,864.03" fill="#25415e" stroke="#000" stroke-width="1.0" stroke-linejoin="round"/>
<polygon points="1034.42,854.25 1030.83,860.41 1038.01,860.41" fill="#274563" stroke="#000" stroke-width="1.0" stroke-linejoin="round"/>
<circle cx="1132.47" cy="878.45" r="2.91" fill="#264360" stroke="#000" stroke-width="1.1"/>
<circle cx="1125.05" cy="857.46" r="2.76" fill="#274563" stroke="#000" stroke-width="1.1"/>
<circle cx="1239.93" cy="858.86" r="2.76" fill="#264360" stroke="#000" stroke-width="1.1"/>
<polygon points="1030.92,862.66 1027.65,868.26 1034.19,868.26" fill="#223b56" stroke="#000" stroke-width="1.0" stroke-linejoin="round"/>
<circle cx="1238.53" cy="877.47" r="2.62" fill="#25425f" stroke="#000" stroke-width="1.1"/>
<polygon points="1140.17,870.64 1137.22,875.69 1143.11,875.69" fill="#233d59" stroke="#000" stroke-width="1.0" stroke-linejoin="round"/>
<circle cx="1130.37" cy="873.27" r="2.33" fill="#233d59" stroke="#000" stroke-width="1.1"/>
<circle cx="1128.27" cy="877.19" r="2.33" fill="#25415e" stroke="#000" stroke-width="1.1"/>
<circle cx="1152.06" cy="861.66" r="2.33" fill="#24405c" stroke="#000" stroke-width="1.1"/>
<circle cx="952.99" cy="859.98" r="2.19" fill="#25425f" stroke="#000" stroke-width="1.1"/>
<circle cx="1152.48" cy="876.77" r="2.19" fill="#25415e" stroke="#000" stroke-width="1.1"/>
<circle cx="926.68" cy="860.96" r="2.04" fill="#25405d" stroke="#000" stroke-width="1.1"/>
<circle cx="941.65" cy="859.56" r="2.04" fill="#26425f" stroke="#000" stroke-width="1.1"/>
<polygon points="972.58,861.13 969.95,865.63 975.20,865.63" fill="#233d5a" stroke="#000" stroke-width="1.0" stroke-linejoin="round"/>
<polygon points="1011.05,870.23 1008.43,874.73 1013.68,874.73" fill="#223c58" stroke="#000" stroke-width="1.0" stroke-linejoin="round"/>
<polygon points="1018.33,866.73 1015.70,871.23 1020.96,871.23" fill="#203852" stroke="#000" stroke-width="1.0" stroke-linejoin="round"/>
<circle cx="1022.95" cy="865.58" r="2.04" fill="#223b56" stroke="#000" stroke-width="1.1"/>
<polygon points="1098.19,865.75 1095.56,870.25 1100.81,870.25" fill="#203853" stroke="#000" stroke-width="1.0" stroke-linejoin="round"/>
<circle cx="1122.40" cy="862.78" r="2.04" fill="#233e5b" stroke="#000" stroke-width="1.1"/>
<circle cx="1136.67" cy="869.77" r="2.04" fill="#203953" stroke="#000" stroke-width="1.1"/>
<circle cx="1166.75" cy="871.59" r="2.04" fill="#213b56" stroke="#000" stroke-width="1.1"/>
<circle cx="1231.81" cy="874.95" r="2.04" fill="#243f5b" stroke="#000" stroke-width="1.1"/>
<circle cx="926.40" cy="872.57" r="1.76" fill="#223c58" stroke="#000" stroke-width="1.1"/>
<circle cx="946.55" cy="865.58" r="1.76" fill="#223b56" stroke="#000" stroke-width="1.1"/>
<polygon points="970.34,865.62 968.04,869.57 972.64,869.57" fill="#203953" stroke="#000" stroke-width="1.0" stroke-linejoin="round"/>
<circle cx="1249.02" cy="873.27" r="1.76" fill="#233d59" stroke="#000" stroke-width="1.1"/>
<polygon points="1234.61,875.41 1232.31,879.36 1236.91,879.36" fill="#25425f" stroke="#000" stroke-width="1.0" stroke-linejoin="round"/>
<circle cx="1023.93" cy="868.65" r="1.61" fill="#1f3752" stroke="#000" stroke-width="1.1"/>
<circle cx="1086.30" cy="869.77" r="1.61" fill="#203953" stroke="#000" stroke-width="1.1"/>
<polygon points="917.59,864.23 915.61,867.62 919.57,867.62" fill="#213b56" stroke="#000" stroke-width="1.0" stroke-linejoin="round"/>
<circle cx="926.68" cy="866.28" r="1.47" fill="#213a55" stroke="#000" stroke-width="1.1"/>
<polygon points="924.58,866.61 922.60,870.00 926.56,870.00" fill="#203852" stroke="#000" stroke-width="1.0" stroke-linejoin="round"/>
<circle cx="934.80" cy="869.35" r="1.47" fill="#203853" stroke="#000" stroke-width="1.1"/>
<circle cx="1029.52" cy="868.37" r="1.47" fill="#203852" stroke="#000" stroke-width="1.1"/>
<circle cx="1032.32" cy="868.65" r="1.47" fill="#1f3752" stroke="#000" stroke-width="1.1"/>
<circle cx="1049.81" cy="869.77" r="1.47" fill="#203953" stroke="#000" stroke-width="1.1"/>
<circle cx="1052.61" cy="871.17" r="1.47" fill="#213a56" stroke="#000" stroke-width="1.1"/>
<circle cx="1054.71" cy="870.89" r="1.47" fill="#213a55" stroke="#000" stroke-width="1.1"/>
<polygon points="1096.51,865.91 1094.53,869.30 1098.49,869.30" fill="#203953" stroke="#000" stroke-width="1.0" stroke-linejoin="round"/>
<circle cx="1257.42" cy="862.50" r="1.47" fill="#243f5b" stroke="#000" stroke-width="1.1"/>
<circle cx="949.07" cy="868.65" r="1.32" fill="#1f3752" stroke="#000" stroke-width="1.1"/>
<circle cx="951.87" cy="867.68" r="1.32" fill="#203953" stroke="#000" stroke-width="1.1"/>
<circle cx="1071.08" cy="871.17" r="1.32" fill="#213a56" stroke="#000" stroke-width="1.1"/>
<circle cx="1075.70" cy="867.68" r="1.32" fill="#203953" stroke="#000" stroke-width="1.1"/>
<circle cx="1144.36" cy="868.65" r="1.32" fill="#1f3752" stroke="#000" stroke-width="1.1"/>
<circle cx="1247.90" cy="860.68" r="1.32" fill="#25415e" stroke="#000" stroke-width="1.1"/>
<ellipse cx="905.00" cy="868.65" rx="2.35" ry="1.9" fill="#0d1219"/>
<ellipse cx="907.79" cy="868.65" rx="2.35" ry="1.9" fill="#0d1219"/>
<ellipse cx="913.39" cy="868.65" rx="2.35" ry="1.9" fill="#0d1219"/>
<ellipse cx="953.97" cy="866.28" rx="2.35" ry="1.9" fill="#0d1219"/>
<polygon points="962.08,866.55 960.35,869.52 963.82,869.52" fill="#10161f" stroke="#000" stroke-width="1.0" stroke-linejoin="round"/>
<ellipse cx="987.55" cy="868.65" rx="2.35" ry="1.9" fill="#0d1219"/>
<ellipse cx="989.65" cy="868.65" rx="2.35" ry="1.9" fill="#0d1219"/>
<ellipse cx="994.54" cy="868.65" rx="2.35" ry="1.9" fill="#0d1219"/>
<ellipse cx="997.34" cy="868.65" rx="2.35" ry="1.9" fill="#0d1219"/>
<ellipse cx="1005.74" cy="868.65" rx="2.35" ry="1.9" fill="#0d1219"/>
<ellipse cx="1008.54" cy="868.65" rx="2.35" ry="1.9" fill="#0d1219"/>
<ellipse cx="1037.92" cy="868.65" rx="2.35" ry="1.9" fill="#0d1219"/>
<ellipse cx="1041.42" cy="868.65" rx="2.35" ry="1.9" fill="#0d1219"/>
<ellipse cx="1064.50" cy="868.65" rx="2.35" ry="1.9" fill="#0d1219"/>
<ellipse cx="1068.00" cy="868.65" rx="2.35" ry="1.9" fill="#0d1219"/>
<ellipse cx="1077.52" cy="866.70" rx="2.35" ry="1.9" fill="#0d1219"/>
<ellipse cx="1081.99" cy="868.65" rx="2.35" ry="1.9" fill="#0d1219"/>
<ellipse cx="1085.49" cy="868.65" rx="2.35" ry="1.9" fill="#0d1219"/>
<ellipse cx="1081.40" cy="869.07" rx="2.35" ry="1.9" fill="#0d1219"/>
<ellipse cx="1084.20" cy="869.07" rx="2.35" ry="1.9" fill="#0d1219"/>
<polygon points="1108.68,867.10 1106.95,870.08 1110.42,870.08" fill="#10161f" stroke="#000" stroke-width="1.0" stroke-linejoin="round"/>
<polygon points="1111.48,867.10 1109.75,870.08 1113.22,870.08" fill="#10161f" stroke="#000" stroke-width="1.0" stroke-linejoin="round"/>
<ellipse cx="1114.28" cy="868.65" rx="2.35" ry="1.9" fill="#0d1219"/>
<ellipse cx="1116.38" cy="868.65" rx="2.35" ry="1.9" fill="#0d1219"/>
<ellipse cx="1127.57" cy="868.65" rx="2.35" ry="1.9" fill="#0d1219"/>
<ellipse cx="1131.07" cy="868.65" rx="2.35" ry="1.9" fill="#0d1219"/>
<ellipse cx="1162.55" cy="868.65" rx="2.35" ry="1.9" fill="#0d1219"/>
<ellipse cx="1164.93" cy="868.65" rx="2.35" ry="1.9" fill="#0d1219"/>
<ellipse cx="1170.53" cy="866.98" rx="2.35" ry="1.9" fill="#0d1219"/>
<ellipse cx="1178.36" cy="869.49" rx="2.35" ry="1.9" fill="#0d1219"/>
<ellipse cx="1218.38" cy="868.65" rx="2.35" ry="1.9" fill="#0d1219"/>
<ellipse cx="1238.81" cy="867.96" rx="2.35" ry="1.9" fill="#0d1219"/>
<circle cx="1056.20" cy="758.80" r="2.85" fill="#6bb8f5" stroke="#000" stroke-width="1.1"/>
<circle cx="925.80" cy="846.30" r="1.85" fill="#2b4b6b" stroke="#000" stroke-width="1.1"/>
<circle cx="1163.40" cy="843.20" r="2.65" fill="#2d4f70" stroke="#000" stroke-width="1.1"/>
<polygon points="1127.60,843.05 1122.73,851.40 1132.47,851.40" fill="#2a4a69" stroke="#000" stroke-width="1.0" stroke-linejoin="round"/>
<clipPath id="clpT186A"><rect x="999.3" y="710.8" width="120" height="40"/></clipPath>
<line x1="884.5" y1="753.5" x2="884.5" y2="892.5" stroke="#222222" stroke-width="1.3"/>
<line x1="884.5" y1="900.5" x2="884.5" y2="957.5" stroke="#222222" stroke-width="1.3"/>
<polyline points="884.5,964.5 884.5,1327.5 1281.5,1327.5" fill="none" stroke="#222222" stroke-width="1.3"/>
<rect x="1281.5" y="753.5" width="19.0" height="139.0" fill="#fff" stroke="#222222" stroke-width="1.3"/>
<rect x="1281.5" y="900.5" width="19.0" height="57.0" fill="#fff" stroke="#222222" stroke-width="1.3"/>
<rect x="1281.5" y="964.5" width="19.0" height="363.0" fill="#fff" stroke="#222222" stroke-width="1.3"/>
<line x1="881.1" y1="755" x2="884.5" y2="755" stroke="#222222" stroke-width="1.3"/>
<line x1="881.1" y1="783.5" x2="884.5" y2="783.5" stroke="#222222" stroke-width="1.3"/>
<line x1="881.1" y1="811.5" x2="884.5" y2="811.5" stroke="#222222" stroke-width="1.3"/>
<line x1="881.1" y1="840" x2="884.5" y2="840" stroke="#222222" stroke-width="1.3"/>
<line x1="881.1" y1="868.5" x2="884.5" y2="868.5" stroke="#222222" stroke-width="1.3"/>
<rect x="902.5" y="917.5" width="359.5" height="22.5" fill="#1b2f48"/>
<line x1="881.1" y1="928.75" x2="884.5" y2="928.75" stroke="#222222" stroke-width="1.3"/>
<rect x="1116.10" y="996.4" width="76.00" height="22.60" fill="#1b2f48"/>
<line x1="881.1" y1="1007.7" x2="884.5" y2="1007.7" stroke="#222222" stroke-width="1.3"/>
<rect x="944.20" y="1042.2" width="167.60" height="23.20" fill="#34587c"/>
<line x1="881.1" y1="1053.8000000000002" x2="884.5" y2="1053.8000000000002" stroke="#222222" stroke-width="1.3"/>
<rect x="1039.60" y="1088.5" width="10.20" height="22.70" fill="#1b2f48"/>
<line x1="881.1" y1="1099.85" x2="884.5" y2="1099.85" stroke="#222222" stroke-width="1.3"/>
<rect x="1111.80" y="1134.9" width="148.80" height="22.60" fill="#18293f"/>
<line x1="881.1" y1="1146.2" x2="884.5" y2="1146.2" stroke="#222222" stroke-width="1.3"/>
<rect x="936.10" y="1181.2" width="178.40" height="22.70" fill="#3a618a"/>
<line x1="881.1" y1="1192.5500000000002" x2="884.5" y2="1192.5500000000002" stroke="#222222" stroke-width="1.3"/>
<rect x="902.10" y="1227.6" width="25.40" height="22.60" fill="#1b2f48"/>
<line x1="881.1" y1="1238.9" x2="884.5" y2="1238.9" stroke="#222222" stroke-width="1.3"/>
<rect x="1112.90" y="1274" width="15.10" height="22.60" fill="#1b2f48"/>
<rect x="1135.00" y="1274" width="12.40" height="22.60" fill="#1b2f48"/>
<rect x="1152.20" y="1274" width="22.70" height="22.60" fill="#1b2f48"/>
<rect x="1246.00" y="1274" width="15.10" height="22.60" fill="#1b2f48"/>
<line x1="881.1" y1="1285.3" x2="884.5" y2="1285.3" stroke="#222222" stroke-width="1.3"/>
<linearGradient id="gHTR3C" x1="0" y1="1" x2="0" y2="0"><stop offset="0" stop-color="#17293f"/><stop offset="0.25" stop-color="#264563"/><stop offset="0.5" stop-color="#356793"/><stop offset="0.75" stop-color="#4f8fc4"/><stop offset="1" stop-color="#6ab8f6"/></linearGradient>
<rect x="1338.5" y="874" width="19.0" height="97" fill="url(#gHTR3C)"/>
<line x1="1338.5" y1="896.5" x2="1342.3" y2="896.5" stroke="#fff" stroke-opacity="0.7" stroke-width="0.6"/>
<line x1="1353.7" y1="896.5" x2="1357.5" y2="896.5" stroke="#fff" stroke-opacity="0.7" stroke-width="0.6"/>
<line x1="1338.5" y1="921.5" x2="1342.3" y2="921.5" stroke="#fff" stroke-opacity="0.7" stroke-width="0.6"/>
<line x1="1353.7" y1="921.5" x2="1357.5" y2="921.5" stroke="#fff" stroke-opacity="0.7" stroke-width="0.6"/>
<line x1="1338.5" y1="946.5" x2="1342.3" y2="946.5" stroke="#fff" stroke-opacity="0.7" stroke-width="0.6"/>
<line x1="1353.7" y1="946.5" x2="1357.5" y2="946.5" stroke="#fff" stroke-opacity="0.7" stroke-width="0.6"/>
<circle cx="1347.4" cy="1025.5" r="2.4" fill="#000"/>
<circle cx="1347.4" cy="1044.9" r="3.0" fill="#000"/>
<circle cx="1347.4" cy="1064.8" r="3.5" fill="#000"/>
<circle cx="1347.4" cy="1084.2" r="3.9" fill="#000"/>
<circle cx="1347.4" cy="1103.6" r="4.3" fill="#000"/>
<polygon points="1347.40,1159.25 1344.21,1164.72 1350.59,1164.72" fill="#000" stroke="#000" stroke-width="0.6" stroke-linejoin="round"/>
<circle cx="1347.4" cy="1181.2" r="2.6" fill="#000"/>
<rect x="153.0" y="1548.5" width="16.00" height="31.5" fill="#f0d88c" stroke="#b3b3b3" stroke-width="1.1"/>
<rect x="173.0" y="1548.5" width="6.00" height="31.5" fill="#f0d88c" stroke="#b3b3b3" stroke-width="1.1"/>
<rect x="183.5" y="1548.5" width="10.50" height="31.5" fill="#f0d88c" stroke="#b3b3b3" stroke-width="1.1"/>
<rect x="198.5" y="1548.5" width="18.00" height="31.5" fill="#f0d88c" stroke="#b3b3b3" stroke-width="1.1"/>
<rect x="221.0" y="1548.5" width="10.50" height="31.5" fill="#f0d88c" stroke="#b3b3b3" stroke-width="1.1"/>
<rect x="235.5" y="1548.5" width="7.50" height="31.5" fill="#f0d88c" stroke="#b3b3b3" stroke-width="1.1"/>
<rect x="247.5" y="1548.5" width="18.00" height="31.5" fill="#f0d88c" stroke="#b3b3b3" stroke-width="1.1"/>
<rect x="269.5" y="1548.5" width="14.50" height="31.5" fill="#f0d88c" stroke="#b3b3b3" stroke-width="1.1"/>
<rect x="288.0" y="1548.5" width="12.00" height="31.5" fill="#f0d88c" stroke="#b3b3b3" stroke-width="1.1"/>
<rect x="304.5" y="1548.5" width="5.00" height="31.5" fill="#f0d88c" stroke="#b3b3b3" stroke-width="1.1"/>
<rect x="313.5" y="1548.5" width="8.00" height="31.5" fill="#f0d88c" stroke="#b3b3b3" stroke-width="1.1"/>
<rect x="325.5" y="1548.5" width="30.00" height="31.5" fill="#f0d88c" stroke="#b3b3b3" stroke-width="1.1"/>
<rect x="359.5" y="1548.5" width="30.50" height="31.5" fill="#f0d88c" stroke="#b3b3b3" stroke-width="1.1"/>
<rect x="394.0" y="1548.5" width="24.00" height="31.5" fill="#f0d88c" stroke="#b3b3b3" stroke-width="1.1"/>
<rect x="422.0" y="1548.5" width="13.00" height="31.5" fill="#f0d88c" stroke="#b3b3b3" stroke-width="1.1"/>
<rect x="439.5" y="1548.5" width="34.00" height="31.5" fill="#f0d88c" stroke="#b3b3b3" stroke-width="1.1"/>
<rect x="477.5" y="1548.5" width="16.50" height="31.5" fill="#f0d88c" stroke="#b3b3b3" stroke-width="1.1"/>
<rect x="498.0" y="1548.5" width="19.00" height="31.5" fill="#f0d88c" stroke="#b3b3b3" stroke-width="1.1"/>
<rect x="521.5" y="1548.5" width="33.00" height="31.5" fill="#f0d88c" stroke="#b3b3b3" stroke-width="1.1"/>
<line x1="427.5" y1="1451.8" x2="427.5" y2="1548.5" stroke="#c2c2c2" stroke-width="1.05"/>
<line x1="511.4" y1="1495.7" x2="511.4" y2="1548.5" stroke="#c2c2c2" stroke-width="1.05"/>
<line x1="365.5" y1="1535.5" x2="365.5" y2="1548.5" stroke="#c2c2c2" stroke-width="1.05"/>
<polygon points="247.43,1547.21 243.78,1553.46 251.07,1553.46" fill="#294766" stroke="#000" stroke-width="1.0" stroke-linejoin="round"/>
<polygon points="291.81,1547.67 288.16,1553.92 295.45,1553.92" fill="#284765" stroke="#000" stroke-width="1.0" stroke-linejoin="round"/>
<polygon points="179.70,1551.39 176.41,1557.03 182.99,1557.03" fill="#264360" stroke="#000" stroke-width="1.0" stroke-linejoin="round"/>
<polygon points="269.39,1553.71 266.10,1559.35 272.67,1559.35" fill="#25405d" stroke="#000" stroke-width="1.0" stroke-linejoin="round"/>
<circle cx="297.22" cy="1551.70" r="2.64" fill="#284664" stroke="#000" stroke-width="1.1"/>
<circle cx="445.56" cy="1553.55" r="2.48" fill="#274461" stroke="#000" stroke-width="1.1"/>
<circle cx="458.24" cy="1552.01" r="2.48" fill="#284564" stroke="#000" stroke-width="1.1"/>
<circle cx="294.90" cy="1549.38" r="2.32" fill="#2a4868" stroke="#000" stroke-width="1.1"/>
<circle cx="441.54" cy="1574.43" r="2.32" fill="#264361" stroke="#000" stroke-width="1.1"/>
<circle cx="484.53" cy="1552.94" r="2.32" fill="#274462" stroke="#000" stroke-width="1.1"/>
<circle cx="206.76" cy="1557.11" r="2.16" fill="#24405c" stroke="#000" stroke-width="1.1"/>
<circle cx="240.47" cy="1552.78" r="2.16" fill="#274563" stroke="#000" stroke-width="1.1"/>
<polygon points="300.78,1554.65 298.02,1559.37 303.53,1559.37" fill="#24405c" stroke="#000" stroke-width="1.0" stroke-linejoin="round"/>
<circle cx="340.98" cy="1550.93" r="2.16" fill="#284765" stroke="#000" stroke-width="1.1"/>
<circle cx="339.43" cy="1573.66" r="2.16" fill="#26425f" stroke="#000" stroke-width="1.1"/>
<circle cx="508.03" cy="1552.47" r="2.16" fill="#274563" stroke="#000" stroke-width="1.1"/>
<circle cx="529.37" cy="1570.26" r="2.16" fill="#233e5a" stroke="#000" stroke-width="1.1"/>
<circle cx="191.30" cy="1557.88" r="2.00" fill="#243f5b" stroke="#000" stroke-width="1.1"/>
<circle cx="211.86" cy="1569.17" r="2.00" fill="#233d59" stroke="#000" stroke-width="1.1"/>
<circle cx="316.55" cy="1556.65" r="2.00" fill="#25405d" stroke="#000" stroke-width="1.1"/>
<circle cx="409.84" cy="1556.65" r="2.00" fill="#25405d" stroke="#000" stroke-width="1.1"/>
<circle cx="166.09" cy="1556.49" r="1.84" fill="#25405d" stroke="#000" stroke-width="1.1"/>
<circle cx="191.76" cy="1569.95" r="1.84" fill="#233e5a" stroke="#000" stroke-width="1.1"/>
<polygon points="321.50,1560.08 319.10,1564.18 323.89,1564.18" fill="#213a55" stroke="#000" stroke-width="1.0" stroke-linejoin="round"/>
<circle cx="330.46" cy="1553.55" r="1.84" fill="#274461" stroke="#000" stroke-width="1.1"/>
<circle cx="351.34" cy="1558.66" r="1.84" fill="#233e5a" stroke="#000" stroke-width="1.1"/>
<circle cx="396.39" cy="1553.25" r="1.84" fill="#274462" stroke="#000" stroke-width="1.1"/>
<circle cx="405.98" cy="1551.70" r="1.84" fill="#284664" stroke="#000" stroke-width="1.1"/>
<circle cx="458.24" cy="1558.19" r="1.84" fill="#243e5b" stroke="#000" stroke-width="1.1"/>
<circle cx="491.95" cy="1570.26" r="1.84" fill="#233e5a" stroke="#000" stroke-width="1.1"/>
<circle cx="503.86" cy="1556.34" r="1.84" fill="#25405d" stroke="#000" stroke-width="1.1"/>
<circle cx="537.88" cy="1560.51" r="1.84" fill="#223c57" stroke="#000" stroke-width="1.1"/>
<circle cx="541.74" cy="1557.11" r="1.84" fill="#24405c" stroke="#000" stroke-width="1.1"/>
<circle cx="553.34" cy="1567.16" r="1.84" fill="#213b56" stroke="#000" stroke-width="1.1"/>
<circle cx="163.00" cy="1557.58" r="1.68" fill="#243f5c" stroke="#000" stroke-width="1.1"/>
<circle cx="174.29" cy="1552.94" r="1.68" fill="#274462" stroke="#000" stroke-width="1.1"/>
<circle cx="314.54" cy="1567.16" r="1.68" fill="#213b56" stroke="#000" stroke-width="1.1"/>
<circle cx="329.23" cy="1567.63" r="1.68" fill="#223b57" stroke="#000" stroke-width="1.1"/>
<circle cx="381.70" cy="1559.43" r="1.68" fill="#233d59" stroke="#000" stroke-width="1.1"/>
<circle cx="350.77" cy="1559.12" r="1.68" fill="#233d59" stroke="#000" stroke-width="1.1"/>
<circle cx="398.40" cy="1558.66" r="1.68" fill="#233e5a" stroke="#000" stroke-width="1.1"/>
<circle cx="484.53" cy="1562.52" r="1.68" fill="#213954" stroke="#000" stroke-width="1.1"/>
<circle cx="511.90" cy="1557.88" r="1.68" fill="#243f5b" stroke="#000" stroke-width="1.1"/>
<circle cx="543.29" cy="1561.44" r="1.68" fill="#213b56" stroke="#000" stroke-width="1.1"/>
<circle cx="252.84" cy="1558.97" r="1.52" fill="#233d5a" stroke="#000" stroke-width="1.1"/>
<circle cx="340.52" cy="1567.47" r="1.52" fill="#223b56" stroke="#000" stroke-width="1.1"/>
<circle cx="368.56" cy="1553.25" r="1.52" fill="#274462" stroke="#000" stroke-width="1.1"/>
<circle cx="453.91" cy="1568.71" r="1.52" fill="#223c58" stroke="#000" stroke-width="1.1"/>
<circle cx="468.29" cy="1567.16" r="1.52" fill="#213b56" stroke="#000" stroke-width="1.1"/>
<circle cx="472.16" cy="1567.16" r="1.52" fill="#213b56" stroke="#000" stroke-width="1.1"/>
<circle cx="482.98" cy="1556.65" r="1.52" fill="#25405d" stroke="#000" stroke-width="1.1"/>
<circle cx="478.34" cy="1565.93" r="1.52" fill="#213954" stroke="#000" stroke-width="1.1"/>
<circle cx="481.44" cy="1564.84" r="1.52" fill="#203853" stroke="#000" stroke-width="1.1"/>
<circle cx="514.99" cy="1571.03" r="1.52" fill="#243f5c" stroke="#000" stroke-width="1.1"/>
<circle cx="552.26" cy="1560.20" r="1.52" fill="#223c58" stroke="#000" stroke-width="1.1"/>
<circle cx="173.98" cy="1560.98" r="1.36" fill="#223b57" stroke="#000" stroke-width="1.1"/>
<polygon points="231.50,1563.18 229.64,1566.37 233.36,1566.37" fill="#203853" stroke="#000" stroke-width="1.0" stroke-linejoin="round"/>
<circle cx="318.87" cy="1564.53" r="1.36" fill="#203852" stroke="#000" stroke-width="1.1"/>
<circle cx="344.38" cy="1562.52" r="1.36" fill="#213954" stroke="#000" stroke-width="1.1"/>
<circle cx="350.00" cy="1565.15" r="1.36" fill="#203853" stroke="#000" stroke-width="1.1"/>
<circle cx="430.41" cy="1564.53" r="1.36" fill="#203852" stroke="#000" stroke-width="1.1"/>
<circle cx="432.73" cy="1563.76" r="1.36" fill="#203853" stroke="#000" stroke-width="1.1"/>
<circle cx="465.97" cy="1564.53" r="1.36" fill="#203852" stroke="#000" stroke-width="1.1"/>
<circle cx="486.85" cy="1561.44" r="1.36" fill="#213b56" stroke="#000" stroke-width="1.1"/>
<circle cx="489.17" cy="1568.71" r="1.36" fill="#223c58" stroke="#000" stroke-width="1.1"/>
<ellipse cx="175.83" cy="1564.07" rx="2.35" ry="1.9" fill="#0d1219"/>
<ellipse cx="213.25" cy="1564.53" rx="2.35" ry="1.9" fill="#0d1219"/>
<ellipse cx="221.45" cy="1564.53" rx="2.35" ry="1.9" fill="#0d1219"/>
<ellipse cx="225.32" cy="1564.53" rx="2.35" ry="1.9" fill="#0d1219"/>
<ellipse cx="228.41" cy="1564.53" rx="2.35" ry="1.9" fill="#0d1219"/>
<ellipse cx="236.91" cy="1564.53" rx="2.35" ry="1.9" fill="#0d1219"/>
<ellipse cx="239.23" cy="1564.53" rx="2.35" ry="1.9" fill="#0d1219"/>
<ellipse cx="249.28" cy="1564.53" rx="2.35" ry="1.9" fill="#0d1219"/>
<ellipse cx="270.93" cy="1564.53" rx="2.35" ry="1.9" fill="#0d1219"/>
<ellipse cx="284.85" cy="1564.53" rx="2.35" ry="1.9" fill="#0d1219"/>
<ellipse cx="308.04" cy="1564.53" rx="2.35" ry="1.9" fill="#0d1219"/>
<ellipse cx="350.10" cy="1564.53" rx="2.35" ry="1.9" fill="#0d1219"/>
<ellipse cx="155.73" cy="1564.53" rx="2.35" ry="1.9" fill="#0d1219"/>
<ellipse cx="158.44" cy="1564.53" rx="2.35" ry="1.9" fill="#0d1219"/>
<ellipse cx="161.14" cy="1564.53" rx="2.35" ry="1.9" fill="#0d1219"/>
<ellipse cx="163.85" cy="1564.53" rx="2.35" ry="1.9" fill="#0d1219"/>
<ellipse cx="166.56" cy="1564.53" rx="2.35" ry="1.9" fill="#0d1219"/>
<ellipse cx="190.52" cy="1564.53" rx="2.35" ry="1.9" fill="#0d1219"/>
<ellipse cx="193.15" cy="1564.53" rx="2.35" ry="1.9" fill="#0d1219"/>
<ellipse cx="195.78" cy="1564.53" rx="2.35" ry="1.9" fill="#0d1219"/>
<ellipse cx="198.41" cy="1564.53" rx="2.35" ry="1.9" fill="#0d1219"/>
<ellipse cx="201.04" cy="1564.53" rx="2.35" ry="1.9" fill="#0d1219"/>
<ellipse cx="203.67" cy="1564.53" rx="2.35" ry="1.9" fill="#0d1219"/>
<ellipse cx="254.70" cy="1564.53" rx="2.35" ry="1.9" fill="#0d1219"/>
<ellipse cx="257.40" cy="1564.53" rx="2.35" ry="1.9" fill="#0d1219"/>
<ellipse cx="260.11" cy="1564.53" rx="2.35" ry="1.9" fill="#0d1219"/>
<ellipse cx="262.81" cy="1564.53" rx="2.35" ry="1.9" fill="#0d1219"/>
<ellipse cx="265.52" cy="1564.53" rx="2.35" ry="1.9" fill="#0d1219"/>
<ellipse cx="277.89" cy="1564.53" rx="2.35" ry="1.9" fill="#0d1219"/>
<ellipse cx="281.76" cy="1564.53" rx="2.35" ry="1.9" fill="#0d1219"/>
<ellipse cx="289.49" cy="1564.53" rx="2.35" ry="1.9" fill="#0d1219"/>
<ellipse cx="292.58" cy="1564.53" rx="2.35" ry="1.9" fill="#0d1219"/>
<ellipse cx="327.37" cy="1564.53" rx="2.35" ry="1.9" fill="#0d1219"/>
<ellipse cx="330.02" cy="1564.53" rx="2.35" ry="1.9" fill="#0d1219"/>
<ellipse cx="332.67" cy="1564.53" rx="2.35" ry="1.9" fill="#0d1219"/>
<ellipse cx="335.32" cy="1564.53" rx="2.35" ry="1.9" fill="#0d1219"/>
<ellipse cx="337.98" cy="1564.53" rx="2.35" ry="1.9" fill="#0d1219"/>
<ellipse cx="340.63" cy="1564.53" rx="2.35" ry="1.9" fill="#0d1219"/>
<ellipse cx="343.28" cy="1564.53" rx="2.35" ry="1.9" fill="#0d1219"/>
<ellipse cx="345.93" cy="1564.53" rx="2.35" ry="1.9" fill="#0d1219"/>
<ellipse cx="373.19" cy="1561.44" rx="2.35" ry="1.9" fill="#0d1219"/>
<polygon points="393.30,1562.52 391.56,1565.50 395.03,1565.50" fill="#10161f" stroke="#000" stroke-width="1.0" stroke-linejoin="round"/>
<ellipse cx="402.11" cy="1562.99" rx="2.35" ry="1.9" fill="#0d1219"/>
<ellipse cx="407.99" cy="1565.93" rx="2.35" ry="1.9" fill="#0d1219"/>
<ellipse cx="426.54" cy="1567.47" rx="2.35" ry="1.9" fill="#0d1219"/>
<ellipse cx="493.03" cy="1564.53" rx="2.35" ry="1.9" fill="#0d1219"/>
<polygon points="520.87,1562.52 519.13,1565.50 522.60,1565.50" fill="#10161f" stroke="#000" stroke-width="1.0" stroke-linejoin="round"/>
<ellipse cx="359.28" cy="1564.53" rx="2.35" ry="1.9" fill="#0d1219"/>
<ellipse cx="361.75" cy="1564.53" rx="2.35" ry="1.9" fill="#0d1219"/>
<ellipse cx="364.23" cy="1564.53" rx="2.35" ry="1.9" fill="#0d1219"/>
<ellipse cx="366.70" cy="1564.53" rx="2.35" ry="1.9" fill="#0d1219"/>
<ellipse cx="369.17" cy="1564.53" rx="2.35" ry="1.9" fill="#0d1219"/>
<ellipse cx="371.65" cy="1564.53" rx="2.35" ry="1.9" fill="#0d1219"/>
<ellipse cx="374.12" cy="1564.53" rx="2.35" ry="1.9" fill="#0d1219"/>
<ellipse cx="376.60" cy="1564.53" rx="2.35" ry="1.9" fill="#0d1219"/>
<ellipse cx="379.07" cy="1564.53" rx="2.35" ry="1.9" fill="#0d1219"/>
<ellipse cx="381.54" cy="1564.53" rx="2.35" ry="1.9" fill="#0d1219"/>
<ellipse cx="384.02" cy="1564.53" rx="2.35" ry="1.9" fill="#0d1219"/>
<ellipse cx="386.34" cy="1564.53" rx="2.35" ry="1.9" fill="#0d1219"/>
<ellipse cx="389.43" cy="1564.53" rx="2.35" ry="1.9" fill="#0d1219"/>
<ellipse cx="399.48" cy="1564.53" rx="2.35" ry="1.9" fill="#0d1219"/>
<ellipse cx="401.80" cy="1564.53" rx="2.35" ry="1.9" fill="#0d1219"/>
<ellipse cx="404.12" cy="1564.53" rx="2.35" ry="1.9" fill="#0d1219"/>
<ellipse cx="406.44" cy="1564.53" rx="2.35" ry="1.9" fill="#0d1219"/>
<ellipse cx="408.76" cy="1564.53" rx="2.35" ry="1.9" fill="#0d1219"/>
<ellipse cx="411.08" cy="1564.53" rx="2.35" ry="1.9" fill="#0d1219"/>
<ellipse cx="413.40" cy="1564.53" rx="2.35" ry="1.9" fill="#0d1219"/>
<ellipse cx="415.72" cy="1564.53" rx="2.35" ry="1.9" fill="#0d1219"/>
<ellipse cx="418.04" cy="1564.53" rx="2.35" ry="1.9" fill="#0d1219"/>
<ellipse cx="445.87" cy="1564.53" rx="2.35" ry="1.9" fill="#0d1219"/>
<ellipse cx="448.45" cy="1564.53" rx="2.35" ry="1.9" fill="#0d1219"/>
<ellipse cx="451.03" cy="1564.53" rx="2.35" ry="1.9" fill="#0d1219"/>
<ellipse cx="453.60" cy="1564.53" rx="2.35" ry="1.9" fill="#0d1219"/>
<ellipse cx="456.18" cy="1564.53" rx="2.35" ry="1.9" fill="#0d1219"/>
<ellipse cx="458.76" cy="1564.53" rx="2.35" ry="1.9" fill="#0d1219"/>
<ellipse cx="461.33" cy="1564.53" rx="2.35" ry="1.9" fill="#0d1219"/>
<ellipse cx="498.45" cy="1564.53" rx="2.35" ry="1.9" fill="#0d1219"/>
<ellipse cx="500.99" cy="1564.53" rx="2.35" ry="1.9" fill="#0d1219"/>
<ellipse cx="503.53" cy="1564.53" rx="2.35" ry="1.9" fill="#0d1219"/>
<ellipse cx="506.07" cy="1564.53" rx="2.35" ry="1.9" fill="#0d1219"/>
<ellipse cx="508.61" cy="1564.53" rx="2.35" ry="1.9" fill="#0d1219"/>
<ellipse cx="511.15" cy="1564.53" rx="2.35" ry="1.9" fill="#0d1219"/>
<ellipse cx="513.69" cy="1564.53" rx="2.35" ry="1.9" fill="#0d1219"/>
<ellipse cx="516.23" cy="1564.53" rx="2.35" ry="1.9" fill="#0d1219"/>
<ellipse cx="524.73" cy="1564.53" rx="2.35" ry="1.9" fill="#0d1219"/>
<ellipse cx="527.26" cy="1564.53" rx="2.35" ry="1.9" fill="#0d1219"/>
<ellipse cx="529.79" cy="1564.53" rx="2.35" ry="1.9" fill="#0d1219"/>
<ellipse cx="532.32" cy="1564.53" rx="2.35" ry="1.9" fill="#0d1219"/>
<ellipse cx="534.85" cy="1564.53" rx="2.35" ry="1.9" fill="#0d1219"/>
<ellipse cx="537.38" cy="1564.53" rx="2.35" ry="1.9" fill="#0d1219"/>
<ellipse cx="539.92" cy="1564.53" rx="2.35" ry="1.9" fill="#0d1219"/>
<ellipse cx="542.45" cy="1564.53" rx="2.35" ry="1.9" fill="#0d1219"/>
<ellipse cx="544.98" cy="1564.53" rx="2.35" ry="1.9" fill="#0d1219"/>
<ellipse cx="547.51" cy="1564.53" rx="2.35" ry="1.9" fill="#0d1219"/>
<ellipse cx="550.04" cy="1564.53" rx="2.35" ry="1.9" fill="#0d1219"/>
<ellipse cx="552.57" cy="1564.53" rx="2.35" ry="1.9" fill="#0d1219"/>
<circle cx="427.50" cy="1451.80" r="3.55" fill="#6bb8f5" stroke="#000" stroke-width="1.1"/>
<circle cx="511.40" cy="1495.70" r="3.55" fill="#4a7db5" stroke="#000" stroke-width="1.1"/>
<circle cx="365.50" cy="1535.50" r="2.05" fill="#2f5274" stroke="#000" stroke-width="1.1"/>
<clipPath id="clpP563L"><rect x="370.1" y="1407" width="120" height="40"/></clipPath>
<clipPath id="clpP747L"><rect x="446.8" y="1451.6" width="120" height="40"/></clipPath>
<line x1="132.5" y1="1445.5" x2="132.5" y2="1585.5" stroke="#222222" stroke-width="1.3"/>
<line x1="132.5" y1="1593.5" x2="132.5" y2="1659.5" stroke="#222222" stroke-width="1.3"/>
<polyline points="132.5,1666.5 132.5,2020.5 574.5,2020.5" fill="none" stroke="#222222" stroke-width="1.3"/>
<rect x="574.5" y="1445.5" width="20.0" height="140.0" fill="#fff" stroke="#222222" stroke-width="1.3"/>
<rect x="574.5" y="1593.5" width="20.0" height="66.0" fill="#fff" stroke="#222222" stroke-width="1.3"/>
<rect x="574.5" y="1666.5" width="20.0" height="354.0" fill="#fff" stroke="#222222" stroke-width="1.3"/>
<line x1="129.1" y1="1447" x2="132.5" y2="1447" stroke="#222222" stroke-width="1.3"/>
<line x1="129.1" y1="1476" x2="132.5" y2="1476" stroke="#222222" stroke-width="1.3"/>
<line x1="129.1" y1="1505.5" x2="132.5" y2="1505.5" stroke="#222222" stroke-width="1.3"/>
<line x1="129.1" y1="1534.5" x2="132.5" y2="1534.5" stroke="#222222" stroke-width="1.3"/>
<line x1="129.1" y1="1564" x2="132.5" y2="1564" stroke="#222222" stroke-width="1.3"/>
<rect x="153" y="1610" width="401.5" height="32" fill="#18293f"/>
<line x1="129.1" y1="1626.0" x2="132.5" y2="1626.0" stroke="#222222" stroke-width="1.3"/>
<rect x="165.00" y="1696.9" width="11.60" height="32.70" fill="#2c4d6e"/>
<line x1="129.1" y1="1713.25" x2="132.5" y2="1713.25" stroke="#222222" stroke-width="1.3"/>
<rect x="225.70" y="1762.3" width="39.00" height="32.20" fill="#18293f"/>
<line x1="129.1" y1="1778.4" x2="132.5" y2="1778.4" stroke="#222222" stroke-width="1.3"/>
<rect x="265.20" y="1827.2" width="39.60" height="32.60" fill="#23405e"/>
<line x1="129.1" y1="1843.5" x2="132.5" y2="1843.5" stroke="#222222" stroke-width="1.3"/>
<rect x="217.80" y="1892.5" width="63.20" height="32.20" fill="#18293f"/>
<line x1="129.1" y1="1908.6" x2="132.5" y2="1908.6" stroke="#222222" stroke-width="1.3"/>
<rect x="156.10" y="1957.4" width="6.30" height="32.70" fill="#1b2f48"/>
<rect x="164.00" y="1957.4" width="11.00" height="32.70" fill="#1b2f48"/>
<rect x="178.20" y="1957.4" width="6.90" height="32.70" fill="#1b2f48"/>
<rect x="198.80" y="1957.4" width="15.80" height="32.70" fill="#1b2f48"/>
<rect x="290.50" y="1957.4" width="8.50" height="32.70" fill="#1b2f48"/>
<rect x="321.60" y="1957.4" width="10.60" height="32.70" fill="#1b2f48"/>
<rect x="348.50" y="1957.4" width="16.40" height="32.70" fill="#1b2f48"/>
<rect x="405.50" y="1957.4" width="8.90" height="32.70" fill="#1b2f48"/>
<rect x="445.50" y="1957.4" width="4.30" height="32.70" fill="#1b2f48"/>
<rect x="464.00" y="1957.4" width="5.30" height="32.70" fill="#1b2f48"/>
<rect x="488.20" y="1957.4" width="10.60" height="32.70" fill="#1b2f48"/>
<line x1="129.1" y1="1973.75" x2="132.5" y2="1973.75" stroke="#222222" stroke-width="1.3"/>
<linearGradient id="gARPP21" x1="0" y1="1" x2="0" y2="0"><stop offset="0" stop-color="#17293f"/><stop offset="0.25" stop-color="#264563"/><stop offset="0.5" stop-color="#356793"/><stop offset="0.75" stop-color="#4f8fc4"/><stop offset="1" stop-color="#6ab8f6"/></linearGradient>
<rect x="617.5" y="1590.5" width="19.0" height="96.5" fill="url(#gARPP21)"/>
<line x1="617.5" y1="1612" x2="621.3" y2="1612" stroke="#fff" stroke-opacity="0.7" stroke-width="0.6"/>
<line x1="632.7" y1="1612" x2="636.5" y2="1612" stroke="#fff" stroke-opacity="0.7" stroke-width="0.6"/>
<line x1="617.5" y1="1637.5" x2="621.3" y2="1637.5" stroke="#fff" stroke-opacity="0.7" stroke-width="0.6"/>
<line x1="632.7" y1="1637.5" x2="636.5" y2="1637.5" stroke="#fff" stroke-opacity="0.7" stroke-width="0.6"/>
<line x1="617.5" y1="1662.5" x2="621.3" y2="1662.5" stroke="#fff" stroke-opacity="0.7" stroke-width="0.6"/>
<line x1="632.7" y1="1662.5" x2="636.5" y2="1662.5" stroke="#fff" stroke-opacity="0.7" stroke-width="0.6"/>
<circle cx="627" cy="1744.9" r="2.6999999999999997" fill="#000"/>
<circle cx="627" cy="1764.4" r="3.4" fill="#000"/>
<circle cx="627" cy="1783.9" r="3.9" fill="#000"/>
<circle cx="627" cy="1803.4" r="4.4" fill="#000"/>
<polygon points="627.00,1864.65 623.81,1870.12 630.19,1870.12" fill="#000" stroke="#000" stroke-width="0.6" stroke-linejoin="round"/>
<circle cx="627" cy="1886.7" r="2.6" fill="#000"/>
<rect x="902.0" y="1559.5" width="30.00" height="19.0" fill="#f0d88c" stroke="#b3b3b3" stroke-width="1.1"/>
<rect x="944.0" y="1559.5" width="7.50" height="19.0" fill="#f0d88c" stroke="#b3b3b3" stroke-width="1.1"/>
<rect x="963.5" y="1559.5" width="18.00" height="19.0" fill="#f0d88c" stroke="#b3b3b3" stroke-width="1.1"/>
<rect x="993.5" y="1559.5" width="90.00" height="19.0" fill="#f0d88c" stroke="#b3b3b3" stroke-width="1.1"/>
<rect x="1095.5" y="1559.5" width="68.00" height="19.0" fill="#f0d88c" stroke="#b3b3b3" stroke-width="1.1"/>
<rect x="1175.5" y="1559.5" width="37.50" height="19.0" fill="#f0d88c" stroke="#b3b3b3" stroke-width="1.1"/>
<rect x="1225.0" y="1559.5" width="49.50" height="19.0" fill="#f0d88c" stroke="#b3b3b3" stroke-width="1.1"/>
<line x1="1004.7" y1="1451.6" x2="1004.7" y2="1559.5" stroke="#c2c2c2" stroke-width="1.05"/>
<line x1="1007.4" y1="1552.3" x2="1007.4" y2="1559.5" stroke="#c2c2c2" stroke-width="1.05"/>
<line x1="1017.4" y1="1550.6" x2="1017.4" y2="1559.5" stroke="#c2c2c2" stroke-width="1.05"/>
<polygon points="963.34,1559.00 959.43,1565.72 967.26,1565.72" fill="#243f5b" stroke="#000" stroke-width="1.0" stroke-linejoin="round"/>
<circle cx="1183.14" cy="1579.57" r="2.91" fill="#264361" stroke="#000" stroke-width="1.1"/>
<circle cx="1191.54" cy="1563.06" r="2.76" fill="#233e5a" stroke="#000" stroke-width="1.1"/>
<circle cx="998.46" cy="1563.06" r="2.33" fill="#233e5a" stroke="#000" stroke-width="1.1"/>
<circle cx="1136.69" cy="1563.06" r="2.33" fill="#233e5a" stroke="#000" stroke-width="1.1"/>
<circle cx="1177.55" cy="1563.06" r="2.33" fill="#233e5a" stroke="#000" stroke-width="1.1"/>
<circle cx="1188.04" cy="1560.68" r="2.33" fill="#25415e" stroke="#000" stroke-width="1.1"/>
<circle cx="1061.29" cy="1557.88" r="2.19" fill="#274462" stroke="#000" stroke-width="1.1"/>
<circle cx="1069.68" cy="1561.10" r="2.19" fill="#25405d" stroke="#000" stroke-width="1.1"/>
<circle cx="1204.13" cy="1564.60" r="2.19" fill="#223c58" stroke="#000" stroke-width="1.1"/>
<circle cx="1063.80" cy="1573.27" r="2.04" fill="#223c58" stroke="#000" stroke-width="1.1"/>
<circle cx="1162.86" cy="1563.90" r="2.04" fill="#233d59" stroke="#000" stroke-width="1.1"/>
<polygon points="951.45,1562.40 948.99,1566.62 953.91,1566.62" fill="#223c58" stroke="#000" stroke-width="1.0" stroke-linejoin="round"/>
<circle cx="1011.05" cy="1563.06" r="1.90" fill="#233e5a" stroke="#000" stroke-width="1.1"/>
<circle cx="1074.30" cy="1565.30" r="1.90" fill="#223c57" stroke="#000" stroke-width="1.1"/>
<circle cx="1083.81" cy="1573.27" r="1.90" fill="#223c58" stroke="#000" stroke-width="1.1"/>
<circle cx="1182.73" cy="1570.47" r="1.90" fill="#203954" stroke="#000" stroke-width="1.1"/>
<circle cx="1129.56" cy="1572.29" r="1.76" fill="#213b56" stroke="#000" stroke-width="1.1"/>
<circle cx="1007.42" cy="1565.30" r="1.61" fill="#223c57" stroke="#000" stroke-width="1.1"/>
<circle cx="1019.31" cy="1566.28" r="1.61" fill="#213a56" stroke="#000" stroke-width="1.1"/>
<circle cx="1022.53" cy="1570.05" r="1.61" fill="#203853" stroke="#000" stroke-width="1.1"/>
<circle cx="1114.58" cy="1571.59" r="1.61" fill="#213a55" stroke="#000" stroke-width="1.1"/>
<circle cx="1117.38" cy="1572.29" r="1.61" fill="#213b56" stroke="#000" stroke-width="1.1"/>
<circle cx="1150.96" cy="1564.60" r="1.61" fill="#223c58" stroke="#000" stroke-width="1.1"/>
<circle cx="1156.56" cy="1566.28" r="1.61" fill="#213a56" stroke="#000" stroke-width="1.1"/>
<circle cx="1161.88" cy="1568.37" r="1.61" fill="#203853" stroke="#000" stroke-width="1.1"/>
<circle cx="1207.35" cy="1570.47" r="1.61" fill="#203954" stroke="#000" stroke-width="1.1"/>
<circle cx="946.97" cy="1569.77" r="1.47" fill="#203853" stroke="#000" stroke-width="1.1"/>
<circle cx="1033.72" cy="1568.10" r="1.47" fill="#203953" stroke="#000" stroke-width="1.1"/>
<circle cx="1069.40" cy="1569.49" r="1.47" fill="#203852" stroke="#000" stroke-width="1.1"/>
<circle cx="999.44" cy="1569.07" r="1.32" fill="#1f3752" stroke="#000" stroke-width="1.1"/>
<circle cx="1001.82" cy="1569.07" r="1.32" fill="#1f3752" stroke="#000" stroke-width="1.1"/>
<circle cx="1058.91" cy="1569.07" r="1.32" fill="#1f3752" stroke="#000" stroke-width="1.1"/>
<circle cx="1061.71" cy="1569.07" r="1.32" fill="#1f3752" stroke="#000" stroke-width="1.1"/>
<circle cx="1099.19" cy="1569.07" r="1.32" fill="#1f3752" stroke="#000" stroke-width="1.1"/>
<circle cx="1153.06" cy="1567.68" r="1.32" fill="#203954" stroke="#000" stroke-width="1.1"/>
<circle cx="1156.56" cy="1569.07" r="1.32" fill="#1f3752" stroke="#000" stroke-width="1.1"/>
<circle cx="1175.73" cy="1569.07" r="1.32" fill="#1f3752" stroke="#000" stroke-width="1.1"/>
<circle cx="1212.53" cy="1569.07" r="1.32" fill="#1f3752" stroke="#000" stroke-width="1.1"/>
<circle cx="1226.24" cy="1569.07" r="1.32" fill="#1f3752" stroke="#000" stroke-width="1.1"/>
<ellipse cx="969.36" cy="1568.65" rx="2.35" ry="1.9" fill="#0d1219"/>
<ellipse cx="971.88" cy="1571.87" rx="2.35" ry="1.9" fill="#0d1219"/>
<ellipse cx="974.26" cy="1569.07" rx="2.35" ry="1.9" fill="#0d1219"/>
<ellipse cx="976.35" cy="1568.37" rx="2.35" ry="1.9" fill="#0d1219"/>
<ellipse cx="978.87" cy="1568.65" rx="2.35" ry="1.9" fill="#0d1219"/>
<polygon points="981.25,1568.50 979.52,1571.48 982.99,1571.48" fill="#10161f" stroke="#000" stroke-width="1.0" stroke-linejoin="round"/>
<ellipse cx="1008.54" cy="1569.07" rx="2.35" ry="1.9" fill="#0d1219"/>
<ellipse cx="1025.33" cy="1566.28" rx="2.35" ry="1.9" fill="#0d1219"/>
<ellipse cx="1036.52" cy="1566.28" rx="2.35" ry="1.9" fill="#0d1219"/>
<ellipse cx="1040.72" cy="1567.96" rx="2.35" ry="1.9" fill="#0d1219"/>
<ellipse cx="1043.52" cy="1569.07" rx="2.35" ry="1.9" fill="#0d1219"/>
<ellipse cx="1049.11" cy="1569.07" rx="2.35" ry="1.9" fill="#0d1219"/>
<ellipse cx="1051.91" cy="1568.65" rx="2.35" ry="1.9" fill="#0d1219"/>
<ellipse cx="1065.20" cy="1568.37" rx="2.35" ry="1.9" fill="#0d1219"/>
<ellipse cx="1079.19" cy="1568.37" rx="2.35" ry="1.9" fill="#0d1219"/>
<ellipse cx="1097.79" cy="1568.10" rx="2.35" ry="1.9" fill="#0d1219"/>
<ellipse cx="1104.79" cy="1568.79" rx="2.35" ry="1.9" fill="#0d1219"/>
<ellipse cx="1107.59" cy="1568.79" rx="2.35" ry="1.9" fill="#0d1219"/>
<ellipse cx="1119.48" cy="1569.49" rx="2.35" ry="1.9" fill="#0d1219"/>
<ellipse cx="1123.68" cy="1568.79" rx="2.35" ry="1.9" fill="#0d1219"/>
<ellipse cx="1128.58" cy="1568.79" rx="2.35" ry="1.9" fill="#0d1219"/>
<ellipse cx="1135.99" cy="1568.65" rx="2.35" ry="1.9" fill="#0d1219"/>
<ellipse cx="1140.47" cy="1569.49" rx="2.35" ry="1.9" fill="#0d1219"/>
<ellipse cx="1143.27" cy="1569.49" rx="2.35" ry="1.9" fill="#0d1219"/>
<ellipse cx="1146.07" cy="1569.49" rx="2.35" ry="1.9" fill="#0d1219"/>
<ellipse cx="1149.56" cy="1569.49" rx="2.35" ry="1.9" fill="#0d1219"/>
<ellipse cx="1191.12" cy="1568.79" rx="2.35" ry="1.9" fill="#0d1219"/>
<ellipse cx="1209.73" cy="1569.07" rx="2.35" ry="1.9" fill="#0d1219"/>
<circle cx="1004.70" cy="1451.60" r="1.95" fill="#6bb8f5" stroke="#000" stroke-width="1.1"/>
<circle cx="1007.40" cy="1552.30" r="2.65" fill="#274361" stroke="#000" stroke-width="1.1"/>
<polygon points="1017.40,1546.25 1012.53,1554.60 1022.27,1554.60" fill="#284564" stroke="#000" stroke-width="1.0" stroke-linejoin="round"/>
<clipPath id="clpV58L"><rect x="943" y="1408.3" width="120" height="30.4"/></clipPath>
<line x1="884.5" y1="1445.5" x2="884.5" y2="1585.5" stroke="#222222" stroke-width="1.3"/>
<line x1="884.5" y1="1593.5" x2="884.5" y2="1668.5" stroke="#222222" stroke-width="1.3"/>
<polyline points="884.5,1675.5 884.5,2020.5 1293.5,2020.5" fill="none" stroke="#222222" stroke-width="1.3"/>
<rect x="1293.5" y="1445.5" width="20.0" height="140.0" fill="#fff" stroke="#222222" stroke-width="1.3"/>
<rect x="1293.5" y="1593.5" width="20.0" height="75.0" fill="#fff" stroke="#222222" stroke-width="1.3"/>
<rect x="1293.5" y="1675.5" width="20.0" height="345.0" fill="#fff" stroke="#222222" stroke-width="1.3"/>
<line x1="881.1" y1="1459" x2="884.5" y2="1459" stroke="#222222" stroke-width="1.3"/>
<line x1="881.1" y1="1495.5" x2="884.5" y2="1495.5" stroke="#222222" stroke-width="1.3"/>
<line x1="881.1" y1="1532" x2="884.5" y2="1532" stroke="#222222" stroke-width="1.3"/>
<line x1="881.1" y1="1569" x2="884.5" y2="1569" stroke="#222222" stroke-width="1.3"/>
<rect x="902" y="1610" width="372.5" height="40.5" fill="#3c668f"/>
<line x1="881.1" y1="1630.25" x2="884.5" y2="1630.25" stroke="#222222" stroke-width="1.3"/>
<rect x="972.80" y="1704.8" width="37.20" height="40.60" fill="#6bb8f5"/>
<rect x="1010.40" y="1704.8" width="25.60" height="40.60" fill="#6bb8f5"/>
<line x1="881.1" y1="1725.1" x2="884.5" y2="1725.1" stroke="#222222" stroke-width="1.3"/>
<rect x="1058.70" y="1786.6" width="22.20" height="40.60" fill="#1b2f48"/>
<line x1="881.1" y1="1806.9" x2="884.5" y2="1806.9" stroke="#222222" stroke-width="1.3"/>
<rect x="910.60" y="1868.3" width="198.70" height="40.60" fill="#6bb8f5"/>
<line x1="881.1" y1="1888.6" x2="884.5" y2="1888.6" stroke="#222222" stroke-width="1.3"/>
<rect x="1137.80" y="1950" width="9.00" height="40.60" fill="#18293f"/>
<rect x="1227.40" y="1950" width="21.10" height="40.60" fill="#18293f"/>
<line x1="881.1" y1="1970.3" x2="884.5" y2="1970.3" stroke="#222222" stroke-width="1.3"/>
<linearGradient id="gCFAP410" x1="0" y1="1" x2="0" y2="0"><stop offset="0" stop-color="#17293f"/><stop offset="0.25" stop-color="#264563"/><stop offset="0.5" stop-color="#356793"/><stop offset="0.75" stop-color="#4f8fc4"/><stop offset="1" stop-color="#6ab8f6"/></linearGradient>
<rect x="1332.5" y="1601" width="19.0" height="97" fill="url(#gCFAP410)"/>
<line x1="1332.5" y1="1601.5" x2="1336.3" y2="1601.5" stroke="#fff" stroke-opacity="0.7" stroke-width="0.6"/>
<line x1="1347.7" y1="1601.5" x2="1351.5" y2="1601.5" stroke="#fff" stroke-opacity="0.7" stroke-width="0.6"/>
<line x1="1332.5" y1="1626" x2="1336.3" y2="1626" stroke="#fff" stroke-opacity="0.7" stroke-width="0.6"/>
<line x1="1347.7" y1="1626" x2="1351.5" y2="1626" stroke="#fff" stroke-opacity="0.7" stroke-width="0.6"/>
<line x1="1332.5" y1="1650.5" x2="1336.3" y2="1650.5" stroke="#fff" stroke-opacity="0.7" stroke-width="0.6"/>
<line x1="1347.7" y1="1650.5" x2="1351.5" y2="1650.5" stroke="#fff" stroke-opacity="0.7" stroke-width="0.6"/>
<line x1="1332.5" y1="1674.5" x2="1336.3" y2="1674.5" stroke="#fff" stroke-opacity="0.7" stroke-width="0.6"/>
<line x1="1347.7" y1="1674.5" x2="1351.5" y2="1674.5" stroke="#fff" stroke-opacity="0.7" stroke-width="0.6"/>
<circle cx="1341.3" cy="1759.1" r="2.6999999999999997" fill="#000"/>
<circle cx="1341.3" cy="1778.7" r="3.4" fill="#000"/>
<circle cx="1341.3" cy="1798.2" r="4.0" fill="#000"/>
<polygon points="1341.30,1858.85 1338.11,1864.32 1344.49,1864.32" fill="#000" stroke="#000" stroke-width="0.6" stroke-linejoin="round"/>
<circle cx="1341.3" cy="1880.9" r="2.6" fill="#000"/>
<rect x="156.5" y="2174.5" width="16.50" height="78.0" fill="#f0d88c" stroke="#b3b3b3" stroke-width="1.1"/>
<rect x="179.0" y="2174.5" width="19.50" height="78.0" fill="#f0d88c" stroke="#b3b3b3" stroke-width="1.1"/>
<rect x="204.0" y="2174.5" width="26.00" height="78.0" fill="#f0d88c" stroke="#b3b3b3" stroke-width="1.1"/>
<rect x="236.0" y="2174.5" width="23.50" height="78.0" fill="#f0d88c" stroke="#b3b3b3" stroke-width="1.1"/>
<rect x="265.5" y="2174.5" width="16.00" height="78.0" fill="#f0d88c" stroke="#b3b3b3" stroke-width="1.1"/>
<rect x="287.5" y="2174.5" width="26.00" height="78.0" fill="#f0d88c" stroke="#b3b3b3" stroke-width="1.1"/>
<rect x="319.0" y="2174.5" width="32.00" height="78.0" fill="#f0d88c" stroke="#b3b3b3" stroke-width="1.1"/>
<rect x="357.5" y="2174.5" width="33.50" height="78.0" fill="#f0d88c" stroke="#b3b3b3" stroke-width="1.1"/>
<rect x="397.5" y="2174.5" width="19.00" height="78.0" fill="#f0d88c" stroke="#b3b3b3" stroke-width="1.1"/>
<rect x="423.0" y="2174.5" width="15.00" height="78.0" fill="#f0d88c" stroke="#b3b3b3" stroke-width="1.1"/>
<rect x="444.5" y="2174.5" width="30.00" height="78.0" fill="#f0d88c" stroke="#b3b3b3" stroke-width="1.1"/>
<rect x="481.5" y="2174.5" width="31.50" height="78.0" fill="#f0d88c" stroke="#b3b3b3" stroke-width="1.1"/>
<rect x="519.5" y="2174.5" width="13.00" height="78.0" fill="#f0d88c" stroke="#b3b3b3" stroke-width="1.1"/>
<rect x="538.5" y="2174.5" width="7.50" height="78.0" fill="#f0d88c" stroke="#b3b3b3" stroke-width="1.1"/>
<line x1="191.3" y1="2152.9" x2="191.3" y2="2174.5" stroke="#c2c2c2" stroke-width="1.05"/>
<line x1="213.7" y1="2167.6" x2="213.7" y2="2174.5" stroke="#c2c2c2" stroke-width="1.05"/>
<line x1="250.1" y1="2174.5" x2="250.1" y2="2174.5" stroke="#c2c2c2" stroke-width="1.05"/>
<line x1="269.1" y1="2153.2" x2="269.1" y2="2174.5" stroke="#c2c2c2" stroke-width="1.05"/>
<line x1="278.7" y1="2154.1" x2="278.7" y2="2174.5" stroke="#c2c2c2" stroke-width="1.05"/>
<line x1="280.7" y1="2124.7" x2="280.7" y2="2174.5" stroke="#c2c2c2" stroke-width="1.05"/>
<line x1="486" y1="2164.2" x2="486" y2="2174.5" stroke="#c2c2c2" stroke-width="1.05"/>
<line x1="527.5" y1="2166.8" x2="527.5" y2="2174.5" stroke="#c2c2c2" stroke-width="1.05"/>
<polygon points="160.06,2235.89 155.52,2243.67 164.60,2243.67" fill="#294867" stroke="#000" stroke-width="1.0" stroke-linejoin="round"/>
<circle cx="449.07" cy="2246.90" r="3.11" fill="#2c4c6c" stroke="#000" stroke-width="1.1"/>
<polygon points="513.24,2197.88 509.95,2203.52 516.53,2203.52" fill="#243f5c" stroke="#000" stroke-width="1.0" stroke-linejoin="round"/>
<circle cx="246.19" cy="2196.18" r="2.32" fill="#26425f" stroke="#000" stroke-width="1.1"/>
<circle cx="270.62" cy="2193.09" r="2.32" fill="#274462" stroke="#000" stroke-width="1.1"/>
<circle cx="291.81" cy="2192.01" r="2.32" fill="#274563" stroke="#000" stroke-width="1.1"/>
<circle cx="304.95" cy="2190.31" r="2.32" fill="#284664" stroke="#000" stroke-width="1.1"/>
<circle cx="503.19" cy="2196.03" r="2.16" fill="#264260" stroke="#000" stroke-width="1.1"/>
<circle cx="164.24" cy="2201.59" r="2.00" fill="#243f5b" stroke="#000" stroke-width="1.1"/>
<circle cx="248.20" cy="2222.00" r="1.84" fill="#223d58" stroke="#000" stroke-width="1.1"/>
<circle cx="295.36" cy="2223.71" r="1.84" fill="#233e5a" stroke="#000" stroke-width="1.1"/>
<circle cx="399.12" cy="2199.58" r="1.84" fill="#24405d" stroke="#000" stroke-width="1.1"/>
<circle cx="449.69" cy="2198.50" r="1.84" fill="#25415e" stroke="#000" stroke-width="1.1"/>
<circle cx="158.82" cy="2217.52" r="1.52" fill="#213a55" stroke="#000" stroke-width="1.1"/>
<polygon points="259.33,2211.37 257.30,2214.87 261.37,2214.87" fill="#203852" stroke="#000" stroke-width="1.0" stroke-linejoin="round"/>
<polygon points="289.18,2211.37 287.14,2214.87 291.22,2214.87" fill="#203852" stroke="#000" stroke-width="1.0" stroke-linejoin="round"/>
<polygon points="423.40,2211.37 421.36,2214.87 425.44,2214.87" fill="#203852" stroke="#000" stroke-width="1.0" stroke-linejoin="round"/>
<circle cx="268.61" cy="2217.83" r="1.36" fill="#213a55" stroke="#000" stroke-width="1.1"/>
<polygon points="280.98,2211.84 279.12,2215.03 282.84,2215.03" fill="#1f3752" stroke="#000" stroke-width="1.0" stroke-linejoin="round"/>
<circle cx="306.96" cy="2207.31" r="1.36" fill="#223b57" stroke="#000" stroke-width="1.1"/>
<circle cx="406.85" cy="2209.63" r="1.36" fill="#213a55" stroke="#000" stroke-width="1.1"/>
<polygon points="447.83,2211.53 445.97,2214.72 449.69,2214.72" fill="#203852" stroke="#000" stroke-width="1.0" stroke-linejoin="round"/>
<polygon points="475.66,2211.22 473.80,2214.41 477.52,2214.41" fill="#203852" stroke="#000" stroke-width="1.0" stroke-linejoin="round"/>
<circle cx="160.68" cy="2213.50" r="1.25" fill="#10161f" stroke="#000" stroke-width="1.1"/>
<circle cx="162.69" cy="2213.50" r="1.25" fill="#10161f" stroke="#000" stroke-width="1.1"/>
<circle cx="170.42" cy="2213.50" r="1.25" fill="#10161f" stroke="#000" stroke-width="1.1"/>
<circle cx="171.97" cy="2213.50" r="1.25" fill="#10161f" stroke="#000" stroke-width="1.1"/>
<circle cx="182.02" cy="2213.50" r="1.25" fill="#10161f" stroke="#000" stroke-width="1.1"/>
<circle cx="185.88" cy="2213.50" r="1.25" fill="#10161f" stroke="#000" stroke-width="1.1"/>
<circle cx="204.44" cy="2213.50" r="1.25" fill="#10161f" stroke="#000" stroke-width="1.1"/>
<circle cx="206.76" cy="2213.50" r="1.25" fill="#10161f" stroke="#000" stroke-width="1.1"/>
<circle cx="209.08" cy="2213.50" r="1.25" fill="#10161f" stroke="#000" stroke-width="1.1"/>
<circle cx="215.26" cy="2213.50" r="1.25" fill="#10161f" stroke="#000" stroke-width="1.1"/>
<circle cx="217.58" cy="2213.50" r="1.25" fill="#10161f" stroke="#000" stroke-width="1.1"/>
<circle cx="226.86" cy="2213.50" r="1.25" fill="#10161f" stroke="#000" stroke-width="1.1"/>
<circle cx="229.65" cy="2213.50" r="1.25" fill="#10161f" stroke="#000" stroke-width="1.1"/>
<circle cx="247.74" cy="2213.50" r="1.25" fill="#10161f" stroke="#000" stroke-width="1.1"/>
<circle cx="250.06" cy="2213.50" r="1.25" fill="#10161f" stroke="#000" stroke-width="1.1"/>
<circle cx="266.45" cy="2212.11" r="1.25" fill="#10161f" stroke="#000" stroke-width="1.1"/>
<circle cx="273.72" cy="2212.11" r="1.25" fill="#10161f" stroke="#000" stroke-width="1.1"/>
<circle cx="293.35" cy="2213.50" r="1.25" fill="#10161f" stroke="#000" stroke-width="1.1"/>
<circle cx="295.67" cy="2213.50" r="1.25" fill="#10161f" stroke="#000" stroke-width="1.1"/>
<circle cx="297.99" cy="2213.50" r="1.25" fill="#10161f" stroke="#000" stroke-width="1.1"/>
<circle cx="307.27" cy="2213.50" r="1.25" fill="#10161f" stroke="#000" stroke-width="1.1"/>
<circle cx="309.59" cy="2213.50" r="1.25" fill="#10161f" stroke="#000" stroke-width="1.1"/>
<circle cx="311.91" cy="2213.50" r="1.25" fill="#10161f" stroke="#000" stroke-width="1.1"/>
<circle cx="318.87" cy="2213.50" r="1.25" fill="#10161f" stroke="#000" stroke-width="1.1"/>
<circle cx="324.28" cy="2213.50" r="1.25" fill="#10161f" stroke="#000" stroke-width="1.1"/>
<circle cx="326.60" cy="2213.50" r="1.25" fill="#10161f" stroke="#000" stroke-width="1.1"/>
<circle cx="328.92" cy="2213.50" r="1.25" fill="#10161f" stroke="#000" stroke-width="1.1"/>
<circle cx="345.93" cy="2213.50" r="1.25" fill="#10161f" stroke="#000" stroke-width="1.1"/>
<circle cx="349.02" cy="2213.50" r="1.25" fill="#10161f" stroke="#000" stroke-width="1.1"/>
<circle cx="346.55" cy="2213.50" r="1.25" fill="#10161f" stroke="#000" stroke-width="1.1"/>
<circle cx="348.87" cy="2213.50" r="1.25" fill="#10161f" stroke="#000" stroke-width="1.1"/>
<circle cx="360.46" cy="2213.50" r="1.25" fill="#10161f" stroke="#000" stroke-width="1.1"/>
<circle cx="362.78" cy="2213.50" r="1.25" fill="#10161f" stroke="#000" stroke-width="1.1"/>
<polygon points="364.33,2211.64 362.59,2214.62 366.06,2214.62" fill="#10161f" stroke="#000" stroke-width="1.0" stroke-linejoin="round"/>
<circle cx="368.97" cy="2213.50" r="1.25" fill="#10161f" stroke="#000" stroke-width="1.1"/>
<circle cx="383.66" cy="2213.50" r="1.25" fill="#10161f" stroke="#000" stroke-width="1.1"/>
<circle cx="386.44" cy="2213.50" r="1.25" fill="#10161f" stroke="#000" stroke-width="1.1"/>
<circle cx="389.07" cy="2213.50" r="1.25" fill="#10161f" stroke="#000" stroke-width="1.1"/>
<circle cx="402.99" cy="2213.50" r="1.25" fill="#10161f" stroke="#000" stroke-width="1.1"/>
<circle cx="405.77" cy="2213.50" r="1.25" fill="#10161f" stroke="#000" stroke-width="1.1"/>
<circle cx="456.03" cy="2212.73" r="1.25" fill="#10161f" stroke="#000" stroke-width="1.1"/>
<circle cx="465.61" cy="2213.50" r="1.25" fill="#10161f" stroke="#000" stroke-width="1.1"/>
<circle cx="467.93" cy="2213.50" r="1.25" fill="#10161f" stroke="#000" stroke-width="1.1"/>
<circle cx="473.34" cy="2213.50" r="1.25" fill="#10161f" stroke="#000" stroke-width="1.1"/>
<circle cx="485.25" cy="2217.06" r="1.25" fill="#10161f" stroke="#000" stroke-width="1.1"/>
<circle cx="488.03" cy="2213.50" r="1.25" fill="#10161f" stroke="#000" stroke-width="1.1"/>
<circle cx="490.35" cy="2213.50" r="1.25" fill="#10161f" stroke="#000" stroke-width="1.1"/>
<circle cx="492.67" cy="2213.50" r="1.25" fill="#10161f" stroke="#000" stroke-width="1.1"/>
<circle cx="494.99" cy="2213.50" r="1.25" fill="#10161f" stroke="#000" stroke-width="1.1"/>
<circle cx="497.31" cy="2213.50" r="1.25" fill="#10161f" stroke="#000" stroke-width="1.1"/>
<circle cx="502.72" cy="2213.50" r="1.25" fill="#10161f" stroke="#000" stroke-width="1.1"/>
<circle cx="510.46" cy="2213.50" r="1.25" fill="#10161f" stroke="#000" stroke-width="1.1"/>
<circle cx="540.61" cy="2213.50" r="1.25" fill="#10161f" stroke="#000" stroke-width="1.1"/>
<circle cx="191.30" cy="2152.90" r="3.15" fill="#32577a" stroke="#000" stroke-width="1.1"/>
<circle cx="213.70" cy="2167.60" r="2.65" fill="#2c4d6e" stroke="#000" stroke-width="1.1"/>
<circle cx="250.10" cy="2174.50" r="2.65" fill="#2a4968" stroke="#000" stroke-width="1.1"/>
<circle cx="269.10" cy="2153.20" r="3.15" fill="#32577a" stroke="#000" stroke-width="1.1"/>
<polygon points="278.70,2149.65 273.72,2158.19 283.68,2158.19" fill="#325679" stroke="#000" stroke-width="1.0" stroke-linejoin="round"/>
<circle cx="280.70" cy="2124.70" r="3.25" fill="#3d6992" stroke="#000" stroke-width="1.1"/>
<circle cx="486.00" cy="2164.20" r="2.95" fill="#2e5071" stroke="#000" stroke-width="1.1"/>
<circle cx="527.50" cy="2166.80" r="2.45" fill="#2d4e6f" stroke="#000" stroke-width="1.1"/>
<line x1="137.5" y1="2118.5" x2="137.5" y2="2258.5" stroke="#222222" stroke-width="1.3"/>
<line x1="137.5" y1="2266.5" x2="137.5" y2="2327.5" stroke="#222222" stroke-width="1.3"/>
<polyline points="137.5,2334.5 137.5,2693.5 566.5,2693.5" fill="none" stroke="#222222" stroke-width="1.3"/>
<rect x="566.5" y="2118.5" width="19.0" height="140.0" fill="#fff" stroke="#222222" stroke-width="1.3"/>
<rect x="566.5" y="2266.5" width="19.0" height="61.0" fill="#fff" stroke="#222222" stroke-width="1.3"/>
<rect x="566.5" y="2334.5" width="19.0" height="359.0" fill="#fff" stroke="#222222" stroke-width="1.3"/>
<line x1="134.1" y1="2123.5" x2="137.5" y2="2123.5" stroke="#222222" stroke-width="1.3"/>
<line x1="134.1" y1="2153.5" x2="137.5" y2="2153.5" stroke="#222222" stroke-width="1.3"/>
<line x1="134.1" y1="2183.5" x2="137.5" y2="2183.5" stroke="#222222" stroke-width="1.3"/>
<line x1="134.1" y1="2213.5" x2="137.5" y2="2213.5" stroke="#222222" stroke-width="1.3"/>
<line x1="134.1" y1="2243.5" x2="137.5" y2="2243.5" stroke="#222222" stroke-width="1.3"/>
<rect x="157" y="2283" width="389" height="27" fill="#6bb8f5"/>
<line x1="134.1" y1="2296.5" x2="137.5" y2="2296.5" stroke="#222222" stroke-width="1.3"/>
<rect x="437.10" y="2365.4" width="19.00" height="26.90" fill="#1b2f48"/>
<line x1="134.1" y1="2378.8500000000004" x2="137.5" y2="2378.8500000000004" stroke="#222222" stroke-width="1.3"/>
<rect x="456.10" y="2419.1" width="50.60" height="26.90" fill="#3a648c"/>
<line x1="134.1" y1="2432.55" x2="137.5" y2="2432.55" stroke="#222222" stroke-width="1.3"/>
<rect x="172.40" y="2473.4" width="282.60" height="26.90" fill="#5596cd"/>
<line x1="134.1" y1="2486.8500000000004" x2="137.5" y2="2486.8500000000004" stroke="#222222" stroke-width="1.3"/>
<rect x="180.30" y="2527.8" width="47.80" height="26.80" fill="#2e5276"/>
<rect x="228.50" y="2527.8" width="27.20" height="26.80" fill="#365c82"/>
<rect x="297.40" y="2527.8" width="26.70" height="26.80" fill="#2e5276"/>
<rect x="324.50" y="2527.8" width="21.40" height="26.80" fill="#365c82"/>
<rect x="359.60" y="2527.8" width="21.10" height="26.80" fill="#33587d"/>
<rect x="383.30" y="2527.8" width="54.30" height="26.80" fill="#2e5276"/>
<line x1="134.1" y1="2541.2" x2="137.5" y2="2541.2" stroke="#222222" stroke-width="1.3"/>
<rect x="452.90" y="2581.5" width="90.20" height="26.90" fill="#4173a2"/>
<line x1="134.1" y1="2594.95" x2="137.5" y2="2594.95" stroke="#222222" stroke-width="1.3"/>
<rect x="156.60" y="2635.8" width="8.40" height="26.90" fill="#1b2f48"/>
<rect x="488.20" y="2635.8" width="5.30" height="26.90" fill="#1b2f48"/>
<line x1="134.1" y1="2649.25" x2="137.5" y2="2649.25" stroke="#222222" stroke-width="1.3"/>
<linearGradient id="gDNAJC7" x1="0" y1="1" x2="0" y2="0"><stop offset="0" stop-color="#17293f"/><stop offset="0.25" stop-color="#264563"/><stop offset="0.5" stop-color="#356793"/><stop offset="0.75" stop-color="#4f8fc4"/><stop offset="1" stop-color="#6ab8f6"/></linearGradient>
<rect x="605" y="2275" width="19" height="96.5" fill="url(#gDNAJC7)"/>
<line x1="605" y1="2289.5" x2="608.8" y2="2289.5" stroke="#fff" stroke-opacity="0.7" stroke-width="0.6"/>
<line x1="620.2" y1="2289.5" x2="624" y2="2289.5" stroke="#fff" stroke-opacity="0.7" stroke-width="0.6"/>
<line x1="605" y1="2317" x2="608.8" y2="2317" stroke="#fff" stroke-opacity="0.7" stroke-width="0.6"/>
<line x1="620.2" y1="2317" x2="624" y2="2317" stroke="#fff" stroke-opacity="0.7" stroke-width="0.6"/>
<line x1="605" y1="2344.5" x2="608.8" y2="2344.5" stroke="#fff" stroke-opacity="0.7" stroke-width="0.6"/>
<line x1="620.2" y1="2344.5" x2="624" y2="2344.5" stroke="#fff" stroke-opacity="0.7" stroke-width="0.6"/>
<circle cx="614.3" cy="2432.3" r="2.6999999999999997" fill="#000"/>
<circle cx="614.3" cy="2451.8" r="3.4" fill="#000"/>
<circle cx="614.3" cy="2471.3" r="4.0" fill="#000"/>
<polygon points="614.30,2532.55 611.11,2538.02 617.49,2538.02" fill="#000" stroke="#000" stroke-width="0.6" stroke-linejoin="round"/>
<circle cx="614.3" cy="2554.6" r="2.6" fill="#000"/><g style="filter:grayscale(1)"><text x="358.5" y="24.3" font-size="27.5" font-weight="bold" font-style="italic" text-anchor="middle" fill="#000">YKT6</text>
<text x="274" y="55.8" font-size="15.17" text-anchor="middle" fill="#000" clip-path="url(#clpY64C)">p.Y64C</text>
<text x="577.5" y="134.5" font-size="11.73" fill="#1a1a1a" text-anchor="middle" transform="rotate(90 577.5 134.5)" dy="5">single variants</text>
<text x="577.5" y="245.5" font-size="11.73" fill="#1a1a1a" text-anchor="middle" transform="rotate(90 577.5 245.5)" dy="5">gene</text>
<text x="577.5" y="462.5" font-size="11.73" fill="#1a1a1a" text-anchor="middle" transform="rotate(90 577.5 462.5)" dy="5">domains</text>
<text x="119.5" y="105.8" font-size="11.73" text-anchor="end" fill="#4d4d4d">5.0</text>
<text x="119.5" y="144.8" font-size="11.73" text-anchor="end" fill="#4d4d4d">2.5</text>
<text x="119.5" y="182.3" font-size="11.73" text-anchor="end" fill="#4d4d4d">0.0</text>
<text x="87" y="136.3" font-size="14.67" fill="#000" text-anchor="middle" transform="rotate(-90 87 136.3)">-log<tspan font-size="10" dy="2.6">10</tspan><tspan dy="-2.6"> </tspan><tspan font-size="18" dy="0.6">(</tspan><tspan font-style="italic" dy="-0.6">P</tspan><tspan font-size="18" dy="0.6" dx="0.3">)</tspan></text>
<text x="119.5" y="249.05" font-size="11.73" text-anchor="end" fill="#4d4d4d">YKT6</text>
<text x="119.5" y="336.1" font-size="11.73" text-anchor="end" fill="#4d4d4d">Synaptobrevin</text>
<text x="119.5" y="401.1" font-size="11.73" text-anchor="end" fill="#4d4d4d">Longin_dom</text>
<text x="119.5" y="466.1" font-size="11.73" text-anchor="end" fill="#4d4d4d">Longin-like_dom_sf</text>
<text x="119.5" y="531.6" font-size="11.73" text-anchor="end" fill="#4d4d4d">V_SNARE_CC</text>
<text x="119.5" y="596.6" font-size="11.73" text-anchor="end" fill="#4d4d4d">Low complexity region</text>
<text x="346" y="656.5" font-size="14.67" text-anchor="middle" fill="#000">CDS position</text>
<text x="612.8" y="201" font-size="14.67" fill="#000" text-anchor="start">-log<tspan font-size="10" dy="2.6">10</tspan><tspan dy="-2.6"> </tspan><tspan font-size="18" dy="0.6">(</tspan><tspan font-style="italic" dy="-0.6">P</tspan><tspan font-size="18" dy="0.6" dx="0.3">)</tspan></text>
<text x="638.2" y="231.3" font-size="11.73" fill="#000">6</text>
<text x="638.2" y="258.8" font-size="11.73" fill="#000">4</text>
<text x="638.2" y="286.5" font-size="11.73" fill="#000">2</text>
<text x="612.8" y="350.2" font-size="14.67" fill="#000">| Log <tspan font-size="18" dy="0.6" dx="-0.8">(</tspan><tspan dy="-0.6">OR</tspan><tspan font-size="18" dy="0.6">)</tspan><tspan dy="-0.6" dx="-0.8"> |</tspan></text>
<text x="638.5" y="376.0" font-size="11.73" fill="#000">0.5</text>
<text x="638.5" y="395.40000000000003" font-size="11.73" fill="#000">1.0</text>
<text x="638.5" y="414.8" font-size="11.73" fill="#000">1.5</text>
<text x="612.8" y="446" font-size="14.67" fill="#000">impact</text>
<text x="638.5" y="467.6" font-size="11.73" fill="#000">HIGH</text>
<text x="638.5" y="487.8" font-size="11.73" fill="#000">MODERATE</text>
<text x="1109" y="24.3" font-size="27.5" font-weight="bold" font-style="italic" text-anchor="middle" fill="#000">KNTC1</text>
<text x="958" y="55.1" font-size="15.17" text-anchor="middle" fill="#000" clip-path="url(#clpW287R)">p.W287R</text>
<text x="1301.5" y="134.5" font-size="11.73" fill="#1a1a1a" text-anchor="middle" transform="rotate(90 1301.5 134.5)" dy="5">single variants</text>
<text x="1301.5" y="250.0" font-size="11.73" fill="#1a1a1a" text-anchor="middle" transform="rotate(90 1301.5 250.0)" dy="5">gene</text>
<text x="1301.5" y="467.0" font-size="11.73" fill="#1a1a1a" text-anchor="middle" transform="rotate(90 1301.5 467.0)" dy="5">domains</text>
<text x="886.5" y="104.3" font-size="11.73" text-anchor="end" fill="#4d4d4d">5.0</text>
<text x="886.5" y="141.8" font-size="11.73" text-anchor="end" fill="#4d4d4d">2.5</text>
<text x="886.5" y="179.8" font-size="11.73" text-anchor="end" fill="#4d4d4d">0.0</text>
<text x="854.8" y="113" font-size="14.67" fill="#000" text-anchor="middle" transform="rotate(-90 854.8 113)">-log<tspan font-size="10" dy="2.6">10</tspan><tspan dy="-2.6"> </tspan><tspan font-size="18" dy="0.6">(</tspan><tspan font-style="italic" dy="-0.6">P</tspan><tspan font-size="18" dy="0.6" dx="0.3">)</tspan></text>
<text x="886.5" y="253.3" font-size="11.73" text-anchor="end" fill="#4d4d4d">KNTC1</text>
<text x="886.5" y="347.95000000000005" font-size="11.73" text-anchor="end" fill="#4d4d4d">Coiled-coil</text>
<text x="886.5" y="429.90000000000003" font-size="11.73" text-anchor="end" fill="#4d4d4d">RZZ-complex_KNTC1/ROD_C</text>
<text x="886.5" y="511.6" font-size="11.73" text-anchor="end" fill="#4d4d4d">WD40_repeat_dom_sf</text>
<text x="886.5" y="593.4" font-size="11.73" text-anchor="end" fill="#4d4d4d">Low complexity region</text>
<text x="1091.4" y="656.5" font-size="14.67" text-anchor="middle" fill="#000">CDS position</text>
<text x="1336" y="180" font-size="14.67" fill="#000" text-anchor="start">-log<tspan font-size="10" dy="2.6">10</tspan><tspan dy="-2.6"> </tspan><tspan font-size="18" dy="0.6">(</tspan><tspan font-style="italic" dy="-0.6">P</tspan><tspan font-size="18" dy="0.6" dx="0.3">)</tspan></text>
<text x="1361" y="209.3" font-size="11.73" fill="#000">6</text>
<text x="1361" y="237.3" font-size="11.73" fill="#000">4</text>
<text x="1361" y="264.8" font-size="11.73" fill="#000">2</text>
<text x="1336" y="327" font-size="14.67" fill="#000">| Log <tspan font-size="18" dy="0.6" dx="-0.8">(</tspan><tspan dy="-0.6">OR</tspan><tspan font-size="18" dy="0.6">)</tspan><tspan dy="-0.6" dx="-0.8"> |</tspan></text>
<text x="1361.4" y="351.8" font-size="11.73" fill="#000">1</text>
<text x="1361.4" y="371.3" font-size="11.73" fill="#000">2</text>
<text x="1361.4" y="390.8" font-size="11.73" fill="#000">3</text>
<text x="1336" y="440" font-size="14.67" fill="#000">impact</text>
<text x="1361.4" y="460.90000000000003" font-size="11.73" fill="#000">HIGH</text>
<text x="1361.4" y="480.5" font-size="11.73" fill="#000">MODERATE</text>
<text x="371" y="704" font-size="27.5" font-weight="bold" font-style="italic" text-anchor="middle" fill="#000">GBGT1</text>
<text x="374.9" y="740.8" font-size="15.17" text-anchor="middle" fill="#000" clip-path="url(#clpR152L)">p.R152L</text>
<text x="577.5" y="823.0" font-size="11.73" fill="#1a1a1a" text-anchor="middle" transform="rotate(90 577.5 823.0)" dy="5">single variants</text>
<text x="577.5" y="945.0" font-size="11.73" fill="#1a1a1a" text-anchor="middle" transform="rotate(90 577.5 945.0)" dy="5">gene</text>
<text x="577.5" y="1162.0" font-size="11.73" fill="#1a1a1a" text-anchor="middle" transform="rotate(90 577.5 1162.0)" dy="5">domains</text>
<text x="159.5" y="760.3" font-size="11.73" text-anchor="end" fill="#4d4d4d">10.0</text>
<text x="159.5" y="788.8" font-size="11.73" text-anchor="end" fill="#4d4d4d">7.5</text>
<text x="159.5" y="816.8" font-size="11.73" text-anchor="end" fill="#4d4d4d">5.0</text>
<text x="159.5" y="844.8" font-size="11.73" text-anchor="end" fill="#4d4d4d">2.5</text>
<text x="159.5" y="873.3" font-size="11.73" text-anchor="end" fill="#4d4d4d">0.0</text>
<text x="128.7" y="805.4" font-size="14.67" fill="#000" text-anchor="middle" transform="rotate(-90 128.7 805.4)">-log<tspan font-size="10" dy="2.6">10</tspan><tspan dy="-2.6"> </tspan><tspan font-size="18" dy="0.6">(</tspan><tspan font-style="italic" dy="-0.6">P</tspan><tspan font-size="18" dy="0.6" dx="0.3">)</tspan></text>
<text x="159.5" y="948.8" font-size="11.73" text-anchor="end" fill="#4d4d4d">GBGT1</text>
<text x="159.5" y="1056.6" font-size="11.73" text-anchor="end" fill="#4d4d4d">Nucleotide-diphossugar_trans</text>
<text x="159.5" y="1166.1" font-size="11.73" text-anchor="end" fill="#4d4d4d">TMhelix</text>
<text x="159.5" y="1276.1" font-size="11.73" text-anchor="end" fill="#4d4d4d">Low complexity region</text>
<text x="366" y="1344" font-size="14.67" text-anchor="middle" fill="#000">CDS position</text>
<text x="616.5" y="892" font-size="14.67" fill="#000" text-anchor="start">-log<tspan font-size="10" dy="2.6">10</tspan><tspan dy="-2.6"> </tspan><tspan font-size="18" dy="0.6">(</tspan><tspan font-style="italic" dy="-0.6">P</tspan><tspan font-size="18" dy="0.6" dx="0.3">)</tspan></text>
<text x="642" y="930.3" font-size="11.73" fill="#000">7.5</text>
<text x="642" y="954.8" font-size="11.73" fill="#000">5.0</text>
<text x="642" y="979.8" font-size="11.73" fill="#000">2.5</text>
<text x="616.5" y="1032" font-size="14.67" fill="#000">| Log <tspan font-size="18" dy="0.6" dx="-0.8">(</tspan><tspan dy="-0.6">OR</tspan><tspan font-size="18" dy="0.6">)</tspan><tspan dy="-0.6" dx="-0.8"> |</tspan></text>
<text x="642" y="1057.3" font-size="11.73" fill="#000">1</text>
<text x="642" y="1076.8" font-size="11.73" fill="#000">2</text>
<text x="642" y="1096.3" font-size="11.73" fill="#000">3</text>
<text x="616.5" y="1134" font-size="14.67" fill="#000">impact</text>
<text x="642" y="1156.3" font-size="11.73" fill="#000">HIGH</text>
<text x="642" y="1175.8" font-size="11.73" fill="#000">MODERATE</text>
<text x="1111" y="704" font-size="27.5" font-weight="bold" font-style="italic" text-anchor="middle" fill="#000">HTR3C</text>
<text x="1059.3" y="740.8" font-size="15.17" text-anchor="middle" fill="#000" clip-path="url(#clpT186A)">p.T186A</text>
<text x="1291.0" y="823.0" font-size="11.73" fill="#1a1a1a" text-anchor="middle" transform="rotate(90 1291.0 823.0)" dy="5">single variants</text>
<text x="1291.0" y="929.0" font-size="11.73" fill="#1a1a1a" text-anchor="middle" transform="rotate(90 1291.0 929.0)" dy="5">gene</text>
<text x="1291.0" y="1146.0" font-size="11.73" fill="#1a1a1a" text-anchor="middle" transform="rotate(90 1291.0 1146.0)" dy="5">domains</text>
<text x="878.5" y="759.3" font-size="11.73" text-anchor="end" fill="#4d4d4d">8</text>
<text x="878.5" y="787.8" font-size="11.73" text-anchor="end" fill="#4d4d4d">6</text>
<text x="878.5" y="815.8" font-size="11.73" text-anchor="end" fill="#4d4d4d">4</text>
<text x="878.5" y="844.3" font-size="11.73" text-anchor="end" fill="#4d4d4d">2</text>
<text x="878.5" y="872.8" font-size="11.73" text-anchor="end" fill="#4d4d4d">0</text>
<text x="859.2" y="811.9" font-size="14.67" fill="#000" text-anchor="middle" transform="rotate(-90 859.2 811.9)">-log<tspan font-size="10" dy="2.6">10</tspan><tspan dy="-2.6"> </tspan><tspan font-size="18" dy="0.6">(</tspan><tspan font-style="italic" dy="-0.6">P</tspan><tspan font-size="18" dy="0.6" dx="0.3">)</tspan></text>
<text x="878.5" y="933.05" font-size="11.73" text-anchor="end" fill="#4d4d4d">HTR3C</text>
<text x="878.5" y="1011.8000000000001" font-size="11.73" text-anchor="end" fill="#4d4d4d">Neurotrans-gated_channel_TM</text>
<text x="878.5" y="1057.9" font-size="11.73" text-anchor="end" fill="#4d4d4d">Neur_chan_lig-bd</text>
<text x="878.5" y="1103.9499999999998" font-size="11.73" text-anchor="end" fill="#4d4d4d">Neurotransmitter_ion_chnl_CS</text>
<text x="878.5" y="1150.3" font-size="11.73" text-anchor="end" fill="#4d4d4d">Neuro-gated_channel_TM_sf</text>
<text x="878.5" y="1196.65" font-size="11.73" text-anchor="end" fill="#4d4d4d">Neur_chan_lig-bd_sf</text>
<text x="878.5" y="1243.0" font-size="11.73" text-anchor="end" fill="#4d4d4d">SignalP-noTM</text>
<text x="878.5" y="1289.3999999999999" font-size="11.73" text-anchor="end" fill="#4d4d4d">TMhelix</text>
<text x="1081.6" y="1344.5" font-size="14.67" text-anchor="middle" fill="#000">CDS position</text>
<text x="1338" y="864" font-size="14.67" fill="#000" text-anchor="start">-log<tspan font-size="10" dy="2.6">10</tspan><tspan dy="-2.6"> </tspan><tspan font-size="18" dy="0.6">(</tspan><tspan font-style="italic" dy="-0.6">P</tspan><tspan font-size="18" dy="0.6" dx="0.3">)</tspan></text>
<text x="1363.5" y="900.8" font-size="11.73" fill="#000">6</text>
<text x="1363.5" y="925.8" font-size="11.73" fill="#000">4</text>
<text x="1363.5" y="950.8" font-size="11.73" fill="#000">2</text>
<text x="1338" y="1004.4" font-size="14.67" fill="#000">| Log <tspan font-size="18" dy="0.6" dx="-0.8">(</tspan><tspan dy="-0.6">OR</tspan><tspan font-size="18" dy="0.6">)</tspan><tspan dy="-0.6" dx="-0.8"> |</tspan></text>
<text x="1363.5" y="1029.8" font-size="11.73" fill="#000">0.5</text>
<text x="1363.5" y="1049.2" font-size="11.73" fill="#000">1.0</text>
<text x="1363.5" y="1069.1" font-size="11.73" fill="#000">1.5</text>
<text x="1363.5" y="1088.5" font-size="11.73" fill="#000">2.0</text>
<text x="1363.5" y="1107.8999999999999" font-size="11.73" fill="#000">2.5</text>
<text x="1338" y="1144" font-size="14.67" fill="#000">impact</text>
<text x="1363.5" y="1166.1" font-size="11.73" fill="#000">HIGH</text>
<text x="1363.5" y="1185.5" font-size="11.73" fill="#000">MODERATE</text>
<text x="370" y="1413" font-size="27.5" font-weight="bold" font-style="italic" text-anchor="middle" fill="#000">ARPP21</text>
<text x="430.1" y="1437" font-size="15.17" text-anchor="middle" fill="#000" clip-path="url(#clpP563L)">p.P563L</text>
<text x="506.8" y="1481.6" font-size="15.17" text-anchor="middle" fill="#000" clip-path="url(#clpP747L)">p.P747L</text>
<text x="584.5" y="1515.5" font-size="11.73" fill="#1a1a1a" text-anchor="middle" transform="rotate(90 584.5 1515.5)" dy="5">single variants</text>
<text x="584.5" y="1626.5" font-size="11.73" fill="#1a1a1a" text-anchor="middle" transform="rotate(90 584.5 1626.5)" dy="5">gene</text>
<text x="584.5" y="1843.5" font-size="11.73" fill="#1a1a1a" text-anchor="middle" transform="rotate(90 584.5 1843.5)" dy="5">domains</text>
<text x="126.5" y="1451.3" font-size="11.73" text-anchor="end" fill="#4d4d4d">10.0</text>
<text x="126.5" y="1480.3" font-size="11.73" text-anchor="end" fill="#4d4d4d">7.5</text>
<text x="126.5" y="1509.8" font-size="11.73" text-anchor="end" fill="#4d4d4d">5.0</text>
<text x="126.5" y="1538.8" font-size="11.73" text-anchor="end" fill="#4d4d4d">2.5</text>
<text x="126.5" y="1568.3" font-size="11.73" text-anchor="end" fill="#4d4d4d">0.0</text>
<text x="94.8" y="1499.7" font-size="14.67" fill="#000" text-anchor="middle" transform="rotate(-90 94.8 1499.7)">-log<tspan font-size="10" dy="2.6">10</tspan><tspan dy="-2.6"> </tspan><tspan font-size="18" dy="0.6">(</tspan><tspan font-style="italic" dy="-0.6">P</tspan><tspan font-size="18" dy="0.6" dx="0.3">)</tspan></text>
<text x="126.5" y="1630.3" font-size="11.73" text-anchor="end" fill="#4d4d4d">ARPP21</text>
<text x="126.5" y="1717.35" font-size="11.73" text-anchor="end" fill="#4d4d4d">Coiled-coil</text>
<text x="126.5" y="1782.5" font-size="11.73" text-anchor="end" fill="#4d4d4d">R3H_dom</text>
<text x="126.5" y="1847.6" font-size="11.73" text-anchor="end" fill="#4d4d4d">SUZ</text>
<text x="126.5" y="1912.6999999999998" font-size="11.73" text-anchor="end" fill="#4d4d4d">R3H_dom_sf</text>
<text x="126.5" y="1977.85" font-size="11.73" text-anchor="end" fill="#4d4d4d">Low complexity region</text>
<text x="353.3" y="2037.5" font-size="14.67" text-anchor="middle" fill="#000">CDS position</text>
<text x="617.5" y="1578.5" font-size="14.67" fill="#000" text-anchor="start">-log<tspan font-size="10" dy="2.6">10</tspan><tspan dy="-2.6"> </tspan><tspan font-size="18" dy="0.6">(</tspan><tspan font-style="italic" dy="-0.6">P</tspan><tspan font-size="18" dy="0.6" dx="0.3">)</tspan></text>
<text x="642.5" y="1616.3" font-size="11.73" fill="#000">7.5</text>
<text x="642.5" y="1641.8" font-size="11.73" fill="#000">5.0</text>
<text x="642.5" y="1666.8" font-size="11.73" fill="#000">2.5</text>
<text x="617.5" y="1723.8" font-size="14.67" fill="#000">| Log <tspan font-size="18" dy="0.6" dx="-0.8">(</tspan><tspan dy="-0.6">OR</tspan><tspan font-size="18" dy="0.6">)</tspan><tspan dy="-0.6" dx="-0.8"> |</tspan></text>
<text x="643.3" y="1749.2" font-size="11.73" fill="#000">1</text>
<text x="643.3" y="1768.7" font-size="11.73" fill="#000">2</text>
<text x="643.3" y="1788.2" font-size="11.73" fill="#000">3</text>
<text x="643.3" y="1807.7" font-size="11.73" fill="#000">4</text>
<text x="617.5" y="1850.4" font-size="14.67" fill="#000">impact</text>
<text x="643.3" y="1871.5" font-size="11.73" fill="#000">HIGH</text>
<text x="643.3" y="1891.0" font-size="11.73" fill="#000">MODERATE</text>
<text x="1106" y="1413" font-size="27.5" font-weight="bold" font-style="italic" text-anchor="middle" fill="#000">CFAP410</text>
<text x="1003" y="1438.3" font-size="15.17" text-anchor="middle" fill="#000" clip-path="url(#clpV58L)">p.V58L</text>
<text x="1303.5" y="1515.5" font-size="11.73" fill="#1a1a1a" text-anchor="middle" transform="rotate(90 1303.5 1515.5)" dy="5">single variants</text>
<text x="1303.5" y="1631.0" font-size="11.73" fill="#1a1a1a" text-anchor="middle" transform="rotate(90 1303.5 1631.0)" dy="5">gene</text>
<text x="1303.5" y="1848.0" font-size="11.73" fill="#1a1a1a" text-anchor="middle" transform="rotate(90 1303.5 1848.0)" dy="5">domains</text>
<text x="878.5" y="1463.3" font-size="11.73" text-anchor="end" fill="#4d4d4d">15</text>
<text x="878.5" y="1499.8" font-size="11.73" text-anchor="end" fill="#4d4d4d">10</text>
<text x="878.5" y="1536.3" font-size="11.73" text-anchor="end" fill="#4d4d4d">5</text>
<text x="878.5" y="1573.3" font-size="11.73" text-anchor="end" fill="#4d4d4d">0</text>
<text x="853.6" y="1510.1" font-size="14.67" fill="#000" text-anchor="middle" transform="rotate(-90 853.6 1510.1)">-log<tspan font-size="10" dy="2.6">10</tspan><tspan dy="-2.6"> </tspan><tspan font-size="18" dy="0.6">(</tspan><tspan font-style="italic" dy="-0.6">P</tspan><tspan font-size="18" dy="0.6" dx="0.3">)</tspan></text>
<text x="878.5" y="1634.55" font-size="11.73" text-anchor="end" fill="#4d4d4d">CFAP410</text>
<text x="878.5" y="1729.1999999999998" font-size="11.73" text-anchor="end" fill="#4d4d4d">Leu-rich_rpt</text>
<text x="878.5" y="1811.0" font-size="11.73" text-anchor="end" fill="#4d4d4d">U2A'_phosphoprotein32A_C</text>
<text x="878.5" y="1892.6999999999998" font-size="11.73" text-anchor="end" fill="#4d4d4d">LRR_dom_sf</text>
<text x="878.5" y="1974.3999999999999" font-size="11.73" text-anchor="end" fill="#4d4d4d">Low complexity region</text>
<text x="1087.7" y="2037.5" font-size="14.67" text-anchor="middle" fill="#000">CDS position</text>
<text x="1332" y="1590.5" font-size="14.67" fill="#000" text-anchor="start">-log<tspan font-size="10" dy="2.6">10</tspan><tspan dy="-2.6"> </tspan><tspan font-size="18" dy="0.6">(</tspan><tspan font-style="italic" dy="-0.6">P</tspan><tspan font-size="18" dy="0.6" dx="0.3">)</tspan></text>
<text x="1357.5" y="1605.8" font-size="11.73" fill="#000">16</text>
<text x="1357.5" y="1630.3" font-size="11.73" fill="#000">12</text>
<text x="1357.5" y="1654.8" font-size="11.73" fill="#000">8</text>
<text x="1357.5" y="1678.8" font-size="11.73" fill="#000">4</text>
<text x="1332" y="1738" font-size="14.67" fill="#000">| Log <tspan font-size="18" dy="0.6" dx="-0.8">(</tspan><tspan dy="-0.6">OR</tspan><tspan font-size="18" dy="0.6">)</tspan><tspan dy="-0.6" dx="-0.8"> |</tspan></text>
<text x="1357.7" y="1763.3999999999999" font-size="11.73" fill="#000">1</text>
<text x="1357.7" y="1783.0" font-size="11.73" fill="#000">2</text>
<text x="1357.7" y="1802.5" font-size="11.73" fill="#000">3</text>
<text x="1332" y="1844.6" font-size="14.67" fill="#000">impact</text>
<text x="1357.7" y="1865.7" font-size="11.73" fill="#000">HIGH</text>
<text x="1357.7" y="1885.2" font-size="11.73" fill="#000">MODERATE</text>
<text x="362" y="2107" font-size="27.5" font-weight="bold" font-style="italic" text-anchor="middle" fill="#000">DNAJC7</text>
<text x="576.0" y="2188.5" font-size="11.73" fill="#1a1a1a" text-anchor="middle" transform="rotate(90 576.0 2188.5)" dy="5">single variants</text>
<text x="576.0" y="2297.0" font-size="11.73" fill="#1a1a1a" text-anchor="middle" transform="rotate(90 576.0 2297.0)" dy="5">gene</text>
<text x="576.0" y="2514.0" font-size="11.73" fill="#1a1a1a" text-anchor="middle" transform="rotate(90 576.0 2514.0)" dy="5">domains</text>
<text x="131.5" y="2127.8" font-size="11.73" text-anchor="end" fill="#4d4d4d">3</text>
<text x="131.5" y="2157.8" font-size="11.73" text-anchor="end" fill="#4d4d4d">2</text>
<text x="131.5" y="2187.8" font-size="11.73" text-anchor="end" fill="#4d4d4d">1</text>
<text x="131.5" y="2217.8" font-size="11.73" text-anchor="end" fill="#4d4d4d">0</text>
<text x="131.5" y="2247.8" font-size="11.73" text-anchor="end" fill="#4d4d4d">-1</text>
<text x="107" y="2183.1" font-size="14.67" fill="#000" text-anchor="middle" transform="rotate(-90 107 2183.1)">-log<tspan font-size="10" dy="2.6">10</tspan><tspan dy="-2.6"> </tspan><tspan font-size="18" dy="0.6">(</tspan><tspan font-style="italic" dy="-0.6">P</tspan><tspan font-size="18" dy="0.6" dx="0.3">)</tspan></text>
<text x="131.5" y="2300.8" font-size="11.73" text-anchor="end" fill="#4d4d4d">DNAJC7</text>
<text x="131.5" y="2382.9500000000003" font-size="11.73" text-anchor="end" fill="#4d4d4d">Coiled-coil</text>
<text x="131.5" y="2436.65" font-size="11.73" text-anchor="end" fill="#4d4d4d">DnaJ_domain</text>
<text x="131.5" y="2490.9500000000003" font-size="11.73" text-anchor="end" fill="#4d4d4d">TPR-like_helical_dom_sf</text>
<text x="131.5" y="2545.2999999999997" font-size="11.73" text-anchor="end" fill="#4d4d4d">TPR_repeat</text>
<text x="131.5" y="2599.0499999999997" font-size="11.73" text-anchor="end" fill="#4d4d4d">J_dom_sf</text>
<text x="131.5" y="2653.35" font-size="11.73" text-anchor="end" fill="#4d4d4d">Low complexity region</text>
<text x="351.2" y="2710.7" font-size="14.67" text-anchor="middle" fill="#000">CDS position</text>
<text x="604.5" y="2264" font-size="14.67" fill="#000" text-anchor="start">-log<tspan font-size="10" dy="2.6">10</tspan><tspan dy="-2.6"> </tspan><tspan font-size="18" dy="0.6">(</tspan><tspan font-style="italic" dy="-0.6">P</tspan><tspan font-size="18" dy="0.6" dx="0.3">)</tspan></text>
<text x="630" y="2293.8" font-size="11.73" fill="#000">6</text>
<text x="630" y="2321.3" font-size="11.73" fill="#000">4</text>
<text x="630" y="2348.8" font-size="11.73" fill="#000">2</text>
<text x="604.5" y="2411.8" font-size="14.67" fill="#000">| Log <tspan font-size="18" dy="0.6" dx="-0.8">(</tspan><tspan dy="-0.6">OR</tspan><tspan font-size="18" dy="0.6">)</tspan><tspan dy="-0.6" dx="-0.8"> |</tspan></text>
<text x="630.6" y="2436.6000000000004" font-size="11.73" fill="#000">1</text>
<text x="630.6" y="2456.1000000000004" font-size="11.73" fill="#000">2</text>
<text x="630.6" y="2475.6000000000004" font-size="11.73" fill="#000">3</text>
<text x="604.5" y="2517.7" font-size="14.67" fill="#000">impact</text>
<text x="630.6" y="2539.4" font-size="11.73" fill="#000">HIGH</text>
<text x="630.6" y="2558.9" font-size="11.73" fill="#000">MODERATE</text></g></svg></body></html>
